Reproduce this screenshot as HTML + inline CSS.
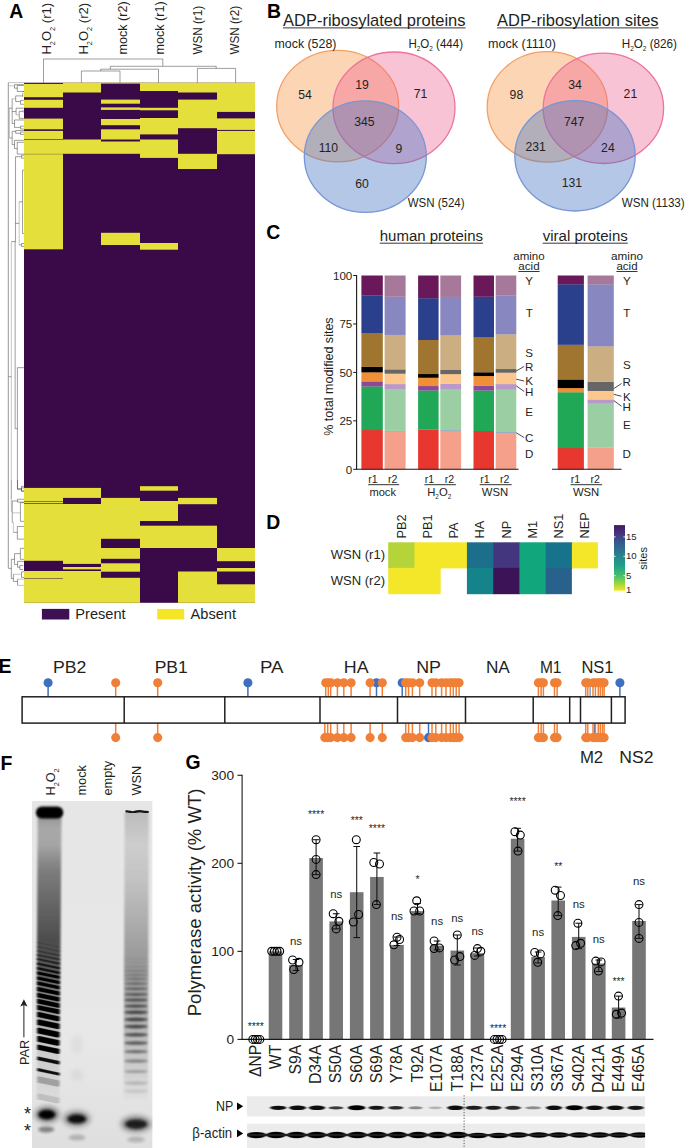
<!DOCTYPE html>
<html><head><meta charset="utf-8"><title>Figure</title>
<style>
html,body{margin:0;padding:0;background:#fff;}
svg{display:block;font-family:"Liberation Sans",sans-serif;}
</style></head><body>
<svg width="685" height="1148" viewBox="0 0 685 1148">
<rect width="685" height="1148" fill="#fff"/>
<rect x="24.00" y="82.70" width="231.00" height="520.10" fill="#390a47" />
<rect x="24.00" y="83.90" width="39.00" height="13.30" fill="#e5df3b" />
<rect x="24.00" y="99.80" width="39.00" height="8.00" fill="#e5df3b" />
<rect x="24.00" y="118.60" width="39.00" height="10.70" fill="#e5df3b" />
<rect x="24.00" y="130.90" width="39.00" height="8.50" fill="#e5df3b" />
<rect x="24.00" y="140.00" width="39.00" height="13.90" fill="#e5df3b" />
<rect x="24.00" y="154.20" width="39.00" height="95.10" fill="#e5df3b" />
<rect x="24.00" y="487.90" width="39.00" height="13.10" fill="#e5df3b" />
<rect x="24.00" y="501.50" width="39.00" height="1.90" fill="#e5df3b" />
<rect x="24.00" y="504.00" width="39.00" height="56.80" fill="#e5df3b" />
<rect x="24.00" y="571.00" width="39.00" height="7.00" fill="#e5df3b" />
<rect x="24.00" y="578.50" width="39.00" height="24.30" fill="#e5df3b" />
<rect x="63.00" y="82.70" width="38.00" height="9.80" fill="#e5df3b" />
<rect x="63.00" y="139.50" width="38.00" height="14.30" fill="#e5df3b" />
<rect x="63.00" y="487.90" width="38.00" height="10.00" fill="#e5df3b" />
<rect x="63.00" y="504.00" width="38.00" height="59.90" fill="#e5df3b" />
<rect x="63.00" y="567.00" width="38.00" height="2.40" fill="#e5df3b" />
<rect x="63.00" y="571.00" width="38.00" height="31.80" fill="#e5df3b" />
<rect x="101.00" y="82.70" width="39.00" height="0.90" fill="#e5df3b" />
<rect x="101.00" y="99.60" width="39.00" height="4.10" fill="#e5df3b" />
<rect x="101.00" y="107.40" width="39.00" height="2.50" fill="#e5df3b" />
<rect x="101.00" y="119.00" width="39.00" height="6.20" fill="#e5df3b" />
<rect x="101.00" y="129.30" width="39.00" height="10.20" fill="#e5df3b" />
<rect x="101.00" y="141.50" width="39.00" height="12.30" fill="#e5df3b" />
<rect x="101.00" y="232.80" width="39.00" height="12.20" fill="#e5df3b" />
<rect x="101.00" y="497.90" width="39.00" height="40.90" fill="#e5df3b" />
<rect x="101.00" y="548.00" width="39.00" height="10.80" fill="#e5df3b" />
<rect x="101.00" y="563.30" width="39.00" height="8.40" fill="#e5df3b" />
<rect x="101.00" y="577.80" width="39.00" height="25.00" fill="#e5df3b" />
<rect x="140.00" y="82.70" width="38.00" height="8.30" fill="#e5df3b" />
<rect x="140.00" y="107.80" width="38.00" height="2.50" fill="#e5df3b" />
<rect x="140.00" y="118.00" width="38.00" height="16.40" fill="#e5df3b" />
<rect x="140.00" y="139.50" width="38.00" height="18.40" fill="#e5df3b" />
<rect x="140.00" y="243.00" width="38.00" height="6.70" fill="#e5df3b" />
<rect x="140.00" y="486.20" width="38.00" height="4.50" fill="#e5df3b" />
<rect x="140.00" y="501.00" width="38.00" height="20.00" fill="#e5df3b" />
<rect x="140.00" y="525.70" width="38.00" height="22.30" fill="#e5df3b" />
<rect x="178.00" y="82.70" width="39.00" height="9.80" fill="#e5df3b" />
<rect x="178.00" y="99.60" width="39.00" height="28.60" fill="#e5df3b" />
<rect x="178.00" y="153.80" width="39.00" height="15.20" fill="#e5df3b" />
<rect x="178.00" y="497.90" width="39.00" height="6.30" fill="#e5df3b" />
<rect x="178.00" y="525.70" width="39.00" height="22.30" fill="#e5df3b" />
<rect x="178.00" y="571.50" width="39.00" height="31.30" fill="#e5df3b" />
<rect x="217.00" y="82.70" width="38.00" height="29.20" fill="#e5df3b" />
<rect x="217.00" y="118.40" width="38.00" height="11.50" fill="#e5df3b" />
<rect x="217.00" y="130.90" width="38.00" height="23.30" fill="#e5df3b" />
<rect x="217.00" y="548.00" width="38.00" height="13.20" fill="#e5df3b" />
<rect x="217.00" y="568.00" width="38.00" height="3.50" fill="#e5df3b" />
<rect x="217.00" y="584.30" width="38.00" height="18.50" fill="#e5df3b" />
<line x1="43.50" y1="59.00" x2="43.50" y2="82.70" stroke="#3c3c3c" stroke-width="0.5" />
<line x1="43.50" y1="59.00" x2="162.80" y2="59.00" stroke="#3c3c3c" stroke-width="0.5" />
<line x1="162.80" y1="59.00" x2="162.80" y2="66.30" stroke="#3c3c3c" stroke-width="0.5" />
<line x1="110.30" y1="66.30" x2="216.20" y2="66.30" stroke="#3c3c3c" stroke-width="0.5" />
<line x1="110.30" y1="66.30" x2="110.30" y2="69.20" stroke="#3c3c3c" stroke-width="0.5" />
<line x1="216.20" y1="66.30" x2="216.20" y2="68.40" stroke="#3c3c3c" stroke-width="0.5" />
<line x1="100.70" y1="69.20" x2="158.50" y2="69.20" stroke="#3c3c3c" stroke-width="0.5" />
<line x1="100.70" y1="69.20" x2="100.70" y2="71.00" stroke="#3c3c3c" stroke-width="0.5" />
<line x1="158.50" y1="69.20" x2="158.50" y2="82.70" stroke="#3c3c3c" stroke-width="0.5" />
<line x1="81.40" y1="71.00" x2="120.00" y2="71.00" stroke="#3c3c3c" stroke-width="0.5" />
<line x1="81.40" y1="71.00" x2="81.40" y2="82.70" stroke="#3c3c3c" stroke-width="0.5" />
<line x1="120.00" y1="71.00" x2="120.00" y2="82.70" stroke="#3c3c3c" stroke-width="0.5" />
<line x1="197.40" y1="68.40" x2="235.60" y2="68.40" stroke="#3c3c3c" stroke-width="0.5" />
<line x1="197.40" y1="68.40" x2="197.40" y2="82.70" stroke="#3c3c3c" stroke-width="0.5" />
<line x1="235.60" y1="68.40" x2="235.60" y2="82.70" stroke="#3c3c3c" stroke-width="0.5" />
<text transform="translate(50.80,54.60) rotate(-90)" font-size="13.3" text-anchor="start" fill="#231f20" textLength="51.80" lengthAdjust="spacingAndGlyphs" >H<tspan dy="4.0" font-size="7.4">2</tspan><tspan dy="-4.0">O</tspan><tspan dy="4.0" font-size="7.4">2</tspan><tspan dy="-4.0"> (r1)</tspan></text>
<text transform="translate(87.60,54.60) rotate(-90)" font-size="13.3" text-anchor="start" fill="#231f20" textLength="51.80" lengthAdjust="spacingAndGlyphs" >H<tspan dy="4.0" font-size="7.4">2</tspan><tspan dy="-4.0">O</tspan><tspan dy="4.0" font-size="7.4">2</tspan><tspan dy="-4.0"> (r2)</tspan></text>
<text transform="translate(126.90,54.60) rotate(-90)" font-size="13.3" text-anchor="start" fill="#231f20" textLength="53.20" lengthAdjust="spacingAndGlyphs" >mock (r2)</text>
<text transform="translate(164.40,54.60) rotate(-90)" font-size="13.3" text-anchor="start" fill="#231f20" textLength="53.20" lengthAdjust="spacingAndGlyphs" >mock (r1)</text>
<text transform="translate(202.20,54.60) rotate(-90)" font-size="13.3" text-anchor="start" fill="#231f20" textLength="48.70" lengthAdjust="spacingAndGlyphs" >WSN (r1)</text>
<text transform="translate(239.30,54.60) rotate(-90)" font-size="13.3" text-anchor="start" fill="#231f20" textLength="48.70" lengthAdjust="spacingAndGlyphs" >WSN (r2)</text>
<text x="9.30" y="17.80" font-size="19.4" text-anchor="start" font-weight="bold" fill="#000" >A</text>
<rect x="41.90" y="608.90" width="27.40" height="10.60" fill="#3d1054" />
<text x="75.30" y="619.30" font-size="14.6" text-anchor="start" font-weight="normal" fill="#231f20" >Present</text>
<rect x="157.20" y="608.90" width="27.00" height="10.60" fill="#f4e526" />
<text x="190.60" y="619.30" font-size="14.6" text-anchor="start" font-weight="normal" fill="#231f20" >Absent</text>
<line x1="8.30" y1="82.60" x2="8.30" y2="568.40" stroke="#8a8a8a" stroke-width="0.9" />
<line x1="8.30" y1="82.60" x2="24.10" y2="82.60" stroke="#8a8a8a" stroke-width="0.5" />
<line x1="9.02" y1="85.84" x2="14.51" y2="85.84" stroke="#8a8a8a" stroke-width="0.5" />
<line x1="14.51" y1="84.67" x2="14.51" y2="88.20" stroke="#3c3c3c" stroke-width="0.5" />
<line x1="14.51" y1="84.67" x2="23.92" y2="84.67" stroke="#3c3c3c" stroke-width="0.5" />
<line x1="14.51" y1="88.20" x2="17.25" y2="88.20" stroke="#3c3c3c" stroke-width="0.5" />
<line x1="17.25" y1="85.45" x2="17.25" y2="91.49" stroke="#3c3c3c" stroke-width="0.5" />
<line x1="17.25" y1="91.49" x2="23.92" y2="91.49" stroke="#3c3c3c" stroke-width="0.5" />
<line x1="17.25" y1="85.45" x2="23.92" y2="85.45" stroke="#3c3c3c" stroke-width="0.5" />
<line x1="23.53" y1="90.94" x2="23.53" y2="92.12" stroke="#3c3c3c" stroke-width="0.5" />
<line x1="12.16" y1="98.78" x2="12.16" y2="123.49" stroke="#3c3c3c" stroke-width="0.5" />
<line x1="12.16" y1="98.78" x2="15.69" y2="98.78" stroke="#8a8a8a" stroke-width="0.5" />
<line x1="15.69" y1="95.88" x2="15.69" y2="101.53" stroke="#3c3c3c" stroke-width="0.5" />
<line x1="15.69" y1="95.88" x2="22.75" y2="95.88" stroke="#3c3c3c" stroke-width="0.5" />
<line x1="22.75" y1="92.90" x2="22.75" y2="96.82" stroke="#3c3c3c" stroke-width="0.5" />
<line x1="15.69" y1="101.53" x2="20.55" y2="101.53" stroke="#3c3c3c" stroke-width="0.5" />
<line x1="20.55" y1="100.35" x2="20.55" y2="104.27" stroke="#3c3c3c" stroke-width="0.5" />
<line x1="20.55" y1="100.35" x2="23.92" y2="100.35" stroke="#3c3c3c" stroke-width="0.5" />
<line x1="20.55" y1="104.27" x2="23.92" y2="104.27" stroke="#3c3c3c" stroke-width="0.5" />
<line x1="9.02" y1="108.20" x2="12.16" y2="108.20" stroke="#3c3c3c" stroke-width="0.5" />
<line x1="12.16" y1="111.57" x2="16.08" y2="111.57" stroke="#3c3c3c" stroke-width="0.5" />
<line x1="16.08" y1="108.20" x2="16.08" y2="114.86" stroke="#3c3c3c" stroke-width="0.5" />
<line x1="16.08" y1="108.20" x2="23.92" y2="108.20" stroke="#3c3c3c" stroke-width="0.5" />
<line x1="16.08" y1="114.86" x2="19.22" y2="114.86" stroke="#8a8a8a" stroke-width="0.5" />
<line x1="19.22" y1="111.33" x2="19.22" y2="118.39" stroke="#3c3c3c" stroke-width="0.5" />
<line x1="19.22" y1="111.33" x2="23.14" y2="111.33" stroke="#3c3c3c" stroke-width="0.5" />
<line x1="23.14" y1="110.16" x2="23.14" y2="112.51" stroke="#3c3c3c" stroke-width="0.5" />
<line x1="19.22" y1="118.39" x2="23.92" y2="118.39" stroke="#3c3c3c" stroke-width="0.5" />
<line x1="12.16" y1="123.49" x2="14.51" y2="123.49" stroke="#3c3c3c" stroke-width="0.5" />
<line x1="14.51" y1="119.96" x2="14.51" y2="127.41" stroke="#3c3c3c" stroke-width="0.5" />
<line x1="14.51" y1="119.96" x2="23.92" y2="119.96" stroke="#3c3c3c" stroke-width="0.5" />
<line x1="14.51" y1="127.41" x2="20.55" y2="127.41" stroke="#3c3c3c" stroke-width="0.5" />
<line x1="20.55" y1="126.24" x2="20.55" y2="128.98" stroke="#3c3c3c" stroke-width="0.5" />
<line x1="20.55" y1="126.24" x2="23.92" y2="126.24" stroke="#3c3c3c" stroke-width="0.5" />
<line x1="20.55" y1="128.98" x2="23.92" y2="128.98" stroke="#3c3c3c" stroke-width="0.5" />
<line x1="9.41" y1="108.20" x2="9.41" y2="138.00" stroke="#8a8a8a" stroke-width="0.5" />
<line x1="9.41" y1="138.00" x2="12.16" y2="138.00" stroke="#3c3c3c" stroke-width="0.5" />
<line x1="12.16" y1="131.33" x2="12.16" y2="144.67" stroke="#3c3c3c" stroke-width="0.5" />
<line x1="12.16" y1="131.33" x2="15.69" y2="131.33" stroke="#3c3c3c" stroke-width="0.5" />
<line x1="15.69" y1="130.55" x2="15.69" y2="133.29" stroke="#3c3c3c" stroke-width="0.5" />
<line x1="15.69" y1="130.55" x2="23.92" y2="130.55" stroke="#3c3c3c" stroke-width="0.5" />
<line x1="15.69" y1="133.29" x2="20.55" y2="133.29" stroke="#3c3c3c" stroke-width="0.5" />
<line x1="20.55" y1="132.12" x2="20.55" y2="134.47" stroke="#3c3c3c" stroke-width="0.5" />
<line x1="20.55" y1="132.12" x2="23.92" y2="132.12" stroke="#3c3c3c" stroke-width="0.5" />
<line x1="20.55" y1="134.47" x2="23.92" y2="134.47" stroke="#3c3c3c" stroke-width="0.5" />
<line x1="12.16" y1="144.67" x2="14.51" y2="144.67" stroke="#3c3c3c" stroke-width="0.5" />
<line x1="14.51" y1="140.35" x2="14.51" y2="148.59" stroke="#3c3c3c" stroke-width="0.5" />
<line x1="14.51" y1="140.35" x2="23.92" y2="140.35" stroke="#3c3c3c" stroke-width="0.5" />
<line x1="14.51" y1="148.59" x2="17.25" y2="148.59" stroke="#3c3c3c" stroke-width="0.5" />
<line x1="17.25" y1="142.31" x2="17.25" y2="154.08" stroke="#3c3c3c" stroke-width="0.5" />
<line x1="17.25" y1="142.31" x2="23.92" y2="142.31" stroke="#3c3c3c" stroke-width="0.5" />
<line x1="17.25" y1="154.08" x2="23.92" y2="154.08" stroke="#3c3c3c" stroke-width="0.5" />
<line x1="15.54" y1="156.71" x2="15.54" y2="241.61" stroke="#3c3c3c" stroke-width="0.5" />
<line x1="15.54" y1="156.71" x2="21.58" y2="156.71" stroke="#3c3c3c" stroke-width="0.5" />
<line x1="21.58" y1="155.28" x2="21.58" y2="158.15" stroke="#3c3c3c" stroke-width="0.5" />
<line x1="21.58" y1="155.28" x2="23.98" y2="155.28" stroke="#3c3c3c" stroke-width="0.5" />
<line x1="21.58" y1="158.15" x2="23.98" y2="158.15" stroke="#3c3c3c" stroke-width="0.5" />
<line x1="15.54" y1="223.38" x2="19.18" y2="223.38" stroke="#3c3c3c" stroke-width="0.5" />
<line x1="19.18" y1="201.80" x2="19.18" y2="244.96" stroke="#8a8a8a" stroke-width="0.5" />
<line x1="19.18" y1="201.80" x2="22.54" y2="201.80" stroke="#3c3c3c" stroke-width="0.5" />
<line x1="22.54" y1="170.14" x2="22.54" y2="233.45" stroke="#3c3c3c" stroke-width="0.5" />
<line x1="22.54" y1="170.14" x2="23.98" y2="170.14" stroke="#3c3c3c" stroke-width="0.5" />
<line x1="22.54" y1="233.45" x2="23.98" y2="233.45" stroke="#3c3c3c" stroke-width="0.5" />
<line x1="19.18" y1="244.96" x2="21.58" y2="244.96" stroke="#3c3c3c" stroke-width="0.5" />
<line x1="21.58" y1="243.53" x2="21.58" y2="246.40" stroke="#3c3c3c" stroke-width="0.5" />
<line x1="21.58" y1="243.53" x2="23.98" y2="243.53" stroke="#3c3c3c" stroke-width="0.5" />
<line x1="21.58" y1="246.40" x2="23.98" y2="246.40" stroke="#3c3c3c" stroke-width="0.5" />
<line x1="11.32" y1="241.61" x2="15.54" y2="241.61" stroke="#3c3c3c" stroke-width="0.5" />
<line x1="11.30" y1="241.58" x2="11.30" y2="499.44" stroke="#8a8a8a" stroke-width="0.5" />
<line x1="15.14" y1="241.58" x2="15.14" y2="428.70" stroke="#3c3c3c" stroke-width="0.5" />
<line x1="15.14" y1="428.70" x2="17.40" y2="428.70" stroke="#3c3c3c" stroke-width="0.5" />
<line x1="17.40" y1="367.68" x2="17.40" y2="488.59" stroke="#3c3c3c" stroke-width="0.5" />
<line x1="17.40" y1="367.68" x2="23.95" y2="367.68" stroke="#3c3c3c" stroke-width="0.5" />
<line x1="17.40" y1="488.59" x2="21.47" y2="488.59" stroke="#3c3c3c" stroke-width="0.5" />
<line x1="21.47" y1="486.33" x2="21.47" y2="490.85" stroke="#3c3c3c" stroke-width="0.5" />
<line x1="21.47" y1="486.33" x2="23.95" y2="486.33" stroke="#3c3c3c" stroke-width="0.5" />
<line x1="21.47" y1="490.85" x2="23.95" y2="490.85" stroke="#3c3c3c" stroke-width="0.5" />
<line x1="8.59" y1="376.72" x2="11.30" y2="376.72" stroke="#3c3c3c" stroke-width="0.5" />
<line x1="8.50" y1="568.39" x2="11.33" y2="568.39" stroke="#3c3c3c" stroke-width="0.5" />
<line x1="11.33" y1="480.00" x2="11.33" y2="511.73" stroke="#8a8a8a" stroke-width="0.5" />
<line x1="17.56" y1="480.00" x2="17.56" y2="489.63" stroke="#3c3c3c" stroke-width="0.5" />
<line x1="17.56" y1="489.63" x2="21.53" y2="489.63" stroke="#3c3c3c" stroke-width="0.5" />
<line x1="21.53" y1="487.93" x2="21.53" y2="491.33" stroke="#3c3c3c" stroke-width="0.5" />
<line x1="21.53" y1="487.93" x2="24.02" y2="487.93" stroke="#3c3c3c" stroke-width="0.5" />
<line x1="21.53" y1="491.33" x2="24.02" y2="491.33" stroke="#3c3c3c" stroke-width="0.5" />
<line x1="12.24" y1="500.96" x2="17.56" y2="500.96" stroke="#3c3c3c" stroke-width="0.5" />
<line x1="12.24" y1="500.96" x2="12.24" y2="522.49" stroke="#3c3c3c" stroke-width="0.5" />
<line x1="12.24" y1="512.86" x2="20.40" y2="512.86" stroke="#8a8a8a" stroke-width="0.5" />
<line x1="20.40" y1="502.66" x2="20.40" y2="521.36" stroke="#3c3c3c" stroke-width="0.5" />
<line x1="20.40" y1="502.66" x2="24.02" y2="502.66" stroke="#3c3c3c" stroke-width="0.5" />
<line x1="20.40" y1="521.36" x2="24.02" y2="521.36" stroke="#3c3c3c" stroke-width="0.5" />
<line x1="17.56" y1="499.26" x2="17.56" y2="502.10" stroke="#3c3c3c" stroke-width="0.5" />
<line x1="17.56" y1="499.26" x2="24.02" y2="499.26" stroke="#3c3c3c" stroke-width="0.5" />
<line x1="17.56" y1="502.10" x2="24.02" y2="502.10" stroke="#3c3c3c" stroke-width="0.5" />
<line x1="13.37" y1="522.49" x2="13.37" y2="532.35" stroke="#8a8a8a" stroke-width="0.5" />
<line x1="12.24" y1="522.49" x2="13.37" y2="522.49" stroke="#8a8a8a" stroke-width="0.5" />
<line x1="13.37" y1="532.35" x2="17.34" y2="532.35" stroke="#3c3c3c" stroke-width="0.5" />
<line x1="17.34" y1="526.46" x2="17.34" y2="539.15" stroke="#3c3c3c" stroke-width="0.5" />
<line x1="17.34" y1="526.46" x2="24.02" y2="526.46" stroke="#3c3c3c" stroke-width="0.5" />
<line x1="17.34" y1="539.15" x2="24.02" y2="539.15" stroke="#3c3c3c" stroke-width="0.5" />
<line x1="20.40" y1="548.33" x2="20.40" y2="559.32" stroke="#3c3c3c" stroke-width="0.5" />
<line x1="20.40" y1="548.33" x2="24.02" y2="548.33" stroke="#3c3c3c" stroke-width="0.5" />
<line x1="20.40" y1="559.32" x2="24.02" y2="559.32" stroke="#3c3c3c" stroke-width="0.5" />
<line x1="14.50" y1="553.65" x2="20.40" y2="553.65" stroke="#3c3c3c" stroke-width="0.5" />
<line x1="14.50" y1="553.65" x2="14.50" y2="564.42" stroke="#3c3c3c" stroke-width="0.5" />
<line x1="14.50" y1="564.42" x2="17.56" y2="564.42" stroke="#3c3c3c" stroke-width="0.5" />
<line x1="17.56" y1="561.36" x2="17.56" y2="567.25" stroke="#3c3c3c" stroke-width="0.5" />
<line x1="17.56" y1="561.36" x2="24.02" y2="561.36" stroke="#3c3c3c" stroke-width="0.5" />
<line x1="17.56" y1="567.25" x2="19.83" y2="567.25" stroke="#3c3c3c" stroke-width="0.5" />
<line x1="19.83" y1="565.55" x2="19.83" y2="569.52" stroke="#3c3c3c" stroke-width="0.5" />
<line x1="19.83" y1="565.55" x2="23.23" y2="565.55" stroke="#3c3c3c" stroke-width="0.5" />
<line x1="19.83" y1="569.52" x2="23.23" y2="569.52" stroke="#3c3c3c" stroke-width="0.5" />
<line x1="11.33" y1="559.32" x2="14.50" y2="559.32" stroke="#3c3c3c" stroke-width="0.5" />
<line x1="11.33" y1="559.32" x2="11.33" y2="578.58" stroke="#3c3c3c" stroke-width="0.5" />
<line x1="13.37" y1="574.28" x2="21.53" y2="574.28" stroke="#8a8a8a" stroke-width="0.5" />
<line x1="21.53" y1="571.78" x2="21.53" y2="577.45" stroke="#3c3c3c" stroke-width="0.5" />
<line x1="21.53" y1="571.78" x2="24.02" y2="571.78" stroke="#3c3c3c" stroke-width="0.5" />
<line x1="21.53" y1="577.45" x2="24.02" y2="577.45" stroke="#3c3c3c" stroke-width="0.5" />
<line x1="11.33" y1="578.58" x2="13.37" y2="578.58" stroke="#3c3c3c" stroke-width="0.5" />
<line x1="13.37" y1="574.28" x2="13.37" y2="581.42" stroke="#3c3c3c" stroke-width="0.5" />
<line x1="13.37" y1="581.42" x2="17.56" y2="581.42" stroke="#3c3c3c" stroke-width="0.5" />
<line x1="17.56" y1="579.15" x2="17.56" y2="585.38" stroke="#3c3c3c" stroke-width="0.5" />
<line x1="17.56" y1="579.15" x2="24.02" y2="579.15" stroke="#8a8a8a" stroke-width="0.5" />
<line x1="17.56" y1="585.38" x2="24.02" y2="585.38" stroke="#8a8a8a" stroke-width="0.5" />
<text x="266.90" y="17.80" font-size="19.4" text-anchor="start" font-weight="bold" fill="#000" >B</text>
<ellipse cx="337.7" cy="106.1" rx="61" ry="55.8" fill="#f79646" fill-opacity="0.40" stroke="#f2a065" stroke-width="1.3"/>
<ellipse cx="394" cy="107.8" rx="61" ry="55.8" fill="#ee5a8c" fill-opacity="0.36" stroke="#ee739e" stroke-width="1.3"/>
<ellipse cx="365.3" cy="156.6" rx="61" ry="55.8" fill="#4472c4" fill-opacity="0.40" stroke="#7796d4" stroke-width="1.3"/>
<ellipse cx="547.4" cy="106.9" rx="60.2" ry="55.2" fill="#f79646" fill-opacity="0.40" stroke="#f2a065" stroke-width="1.3"/>
<ellipse cx="603.4" cy="108.3" rx="60.2" ry="55.2" fill="#ee5a8c" fill-opacity="0.36" stroke="#ee739e" stroke-width="1.3"/>
<ellipse cx="575" cy="155.8" rx="60.2" ry="55.2" fill="#4472c4" fill-opacity="0.40" stroke="#7796d4" stroke-width="1.3"/>
<text x="283.00" y="26.00" font-size="16.4" text-anchor="start" font-weight="normal" fill="#231f20" textLength="182.50" lengthAdjust="spacingAndGlyphs" >ADP-ribosylated proteins</text>
<line x1="283.00" y1="27.90" x2="465.50" y2="27.90" stroke="#231f20" stroke-width="0.9" />
<text x="497.10" y="26.00" font-size="16.4" text-anchor="start" font-weight="normal" fill="#231f20" textLength="161.50" lengthAdjust="spacingAndGlyphs" >ADP-ribosylation sites</text>
<line x1="497.10" y1="27.90" x2="658.60" y2="27.90" stroke="#231f20" stroke-width="0.9" />
<text x="274.50" y="47.60" font-size="12.2" text-anchor="start" font-weight="normal" fill="#231f20" textLength="61.90" lengthAdjust="spacingAndGlyphs" >mock (528)</text>
<text x="408.40" y="47.60" font-size="12.2" text-anchor="start" font-weight="normal" fill="#231f20" textLength="54.60" lengthAdjust="spacingAndGlyphs" >H<tspan dy="3.7" font-size="6.8">2</tspan><tspan dy="-3.7">O</tspan><tspan dy="3.7" font-size="6.8">2</tspan><tspan dy="-3.7"> (444)</tspan></text>
<text x="407.70" y="207.20" font-size="12.2" text-anchor="start" font-weight="normal" fill="#231f20" textLength="56.90" lengthAdjust="spacingAndGlyphs" >WSN (524)</text>
<text x="305.00" y="99.00" font-size="12.2" text-anchor="middle" font-weight="normal" fill="#231f20" >54</text>
<text x="362.10" y="89.40" font-size="12.2" text-anchor="middle" font-weight="normal" fill="#231f20" >19</text>
<text x="420.60" y="98.10" font-size="12.2" text-anchor="middle" font-weight="normal" fill="#231f20" >71</text>
<text x="364.40" y="125.70" font-size="12.2" text-anchor="middle" font-weight="normal" fill="#231f20" >345</text>
<text x="328.40" y="151.70" font-size="12.2" text-anchor="middle" font-weight="normal" fill="#231f20" >110</text>
<text x="399.00" y="152.70" font-size="12.2" text-anchor="middle" font-weight="normal" fill="#231f20" >9</text>
<text x="362.10" y="188.30" font-size="12.2" text-anchor="middle" font-weight="normal" fill="#231f20" >60</text>
<text x="516.40" y="99.00" font-size="12.2" text-anchor="middle" font-weight="normal" fill="#231f20" >98</text>
<text x="575.10" y="89.40" font-size="12.2" text-anchor="middle" font-weight="normal" fill="#231f20" >34</text>
<text x="630.40" y="98.40" font-size="12.2" text-anchor="middle" font-weight="normal" fill="#231f20" >21</text>
<text x="574.20" y="125.70" font-size="12.2" text-anchor="middle" font-weight="normal" fill="#231f20" >747</text>
<text x="535.60" y="151.40" font-size="12.2" text-anchor="middle" font-weight="normal" fill="#231f20" >231</text>
<text x="607.90" y="152.00" font-size="12.2" text-anchor="middle" font-weight="normal" fill="#231f20" >24</text>
<text x="571.90" y="187.30" font-size="12.2" text-anchor="middle" font-weight="normal" fill="#231f20" >131</text>
<text x="488.10" y="47.60" font-size="12.2" text-anchor="start" font-weight="normal" fill="#231f20" textLength="67.80" lengthAdjust="spacingAndGlyphs" >mock (1110)</text>
<text x="621.70" y="47.60" font-size="12.2" text-anchor="start" font-weight="normal" fill="#231f20" textLength="55.30" lengthAdjust="spacingAndGlyphs" >H<tspan dy="3.7" font-size="6.8">2</tspan><tspan dy="-3.7">O</tspan><tspan dy="3.7" font-size="6.8">2</tspan><tspan dy="-3.7"> (826)</tspan></text>
<text x="621.70" y="207.20" font-size="12.2" text-anchor="start" font-weight="normal" fill="#231f20" textLength="63.00" lengthAdjust="spacingAndGlyphs" >WSN (1133)</text>
<text x="266.30" y="239.00" font-size="19.4" text-anchor="start" font-weight="bold" fill="#000" >C</text>
<rect x="361.40" y="429.96" width="21.40" height="39.49" fill="#e8372f" />
<rect x="361.40" y="386.35" width="21.40" height="43.75" fill="#20a857" />
<rect x="361.40" y="381.31" width="21.40" height="5.19" fill="#8b4a97" />
<rect x="361.40" y="372.21" width="21.40" height="9.26" fill="#f09036" />
<rect x="361.40" y="366.78" width="21.40" height="5.58" fill="#000000" />
<rect x="361.40" y="332.86" width="21.40" height="34.07" fill="#a07530" />
<rect x="361.40" y="295.46" width="21.40" height="37.55" fill="#2b408d" />
<rect x="361.40" y="275.50" width="21.40" height="20.11" fill="#69195a" />
<rect x="384.60" y="431.51" width="21.00" height="37.94" fill="#f4a08a" />
<rect x="384.60" y="430.73" width="21.00" height="0.93" fill="#8f9bd0" />
<rect x="384.60" y="389.45" width="21.00" height="41.43" fill="#9bcfa3" />
<rect x="384.60" y="384.03" width="21.00" height="5.58" fill="#b999c9" />
<rect x="384.60" y="373.56" width="21.00" height="10.62" fill="#fbc78f" />
<rect x="384.60" y="369.30" width="21.00" height="4.41" fill="#666666" />
<rect x="384.60" y="334.80" width="21.00" height="34.65" fill="#ccae83" />
<rect x="384.60" y="296.62" width="21.00" height="38.33" fill="#8987bf" />
<rect x="384.60" y="275.50" width="21.00" height="21.27" fill="#a6799b" />
<rect x="418.10" y="429.38" width="20.50" height="40.07" fill="#e8372f" />
<rect x="418.10" y="390.42" width="20.50" height="39.10" fill="#20a857" />
<rect x="418.10" y="385.97" width="20.50" height="4.61" fill="#8b4a97" />
<rect x="418.10" y="377.63" width="20.50" height="8.48" fill="#f09036" />
<rect x="418.10" y="373.95" width="20.50" height="3.83" fill="#000000" />
<rect x="418.10" y="339.84" width="20.50" height="34.26" fill="#a07530" />
<rect x="418.10" y="298.17" width="20.50" height="41.82" fill="#2b408d" />
<rect x="418.10" y="275.50" width="20.50" height="22.82" fill="#69195a" />
<rect x="440.30" y="430.93" width="20.80" height="38.52" fill="#f4a08a" />
<rect x="440.30" y="430.15" width="20.80" height="0.93" fill="#8f9bd0" />
<rect x="440.30" y="389.07" width="20.80" height="41.24" fill="#9bcfa3" />
<rect x="440.30" y="383.64" width="20.80" height="5.58" fill="#b999c9" />
<rect x="440.30" y="373.95" width="20.80" height="9.84" fill="#fbc78f" />
<rect x="440.30" y="369.49" width="20.80" height="4.61" fill="#666666" />
<rect x="440.30" y="335.19" width="20.80" height="34.45" fill="#ccae83" />
<rect x="440.30" y="296.82" width="20.80" height="38.52" fill="#8987bf" />
<rect x="440.30" y="275.50" width="20.80" height="21.47" fill="#a6799b" />
<rect x="473.50" y="430.93" width="20.50" height="38.52" fill="#e8372f" />
<rect x="473.50" y="390.42" width="20.50" height="40.65" fill="#20a857" />
<rect x="473.50" y="385.77" width="20.50" height="4.80" fill="#8b4a97" />
<rect x="473.50" y="375.89" width="20.50" height="10.03" fill="#f09036" />
<rect x="473.50" y="372.21" width="20.50" height="3.83" fill="#000000" />
<rect x="473.50" y="337.13" width="20.50" height="35.23" fill="#a07530" />
<rect x="473.50" y="296.62" width="20.50" height="40.65" fill="#2b408d" />
<rect x="473.50" y="275.50" width="20.50" height="21.27" fill="#69195a" />
<rect x="495.70" y="432.87" width="20.60" height="36.58" fill="#f4a08a" />
<rect x="495.70" y="432.09" width="20.60" height="0.93" fill="#8f9bd0" />
<rect x="495.70" y="389.65" width="20.60" height="42.59" fill="#9bcfa3" />
<rect x="495.70" y="384.03" width="20.60" height="5.77" fill="#b999c9" />
<rect x="495.70" y="372.59" width="20.60" height="11.58" fill="#fbc78f" />
<rect x="495.70" y="368.91" width="20.60" height="3.83" fill="#666666" />
<rect x="495.70" y="334.22" width="20.60" height="34.84" fill="#ccae83" />
<rect x="495.70" y="295.46" width="20.60" height="38.91" fill="#8987bf" />
<rect x="495.70" y="275.50" width="20.60" height="20.11" fill="#a6799b" />
<rect x="557.70" y="447.98" width="26.20" height="21.47" fill="#e8372f" />
<rect x="557.70" y="392.17" width="26.20" height="55.96" fill="#20a857" />
<rect x="557.70" y="387.90" width="26.20" height="4.41" fill="#f09036" />
<rect x="557.70" y="379.38" width="26.20" height="8.68" fill="#000000" />
<rect x="557.70" y="344.69" width="26.20" height="34.84" fill="#a07530" />
<rect x="557.70" y="284.22" width="26.20" height="60.62" fill="#2b408d" />
<rect x="557.70" y="275.50" width="26.20" height="8.87" fill="#69195a" />
<rect x="587.60" y="447.59" width="26.20" height="21.86" fill="#f4a08a" />
<rect x="587.60" y="403.02" width="26.20" height="44.72" fill="#9bcfa3" />
<rect x="587.60" y="399.34" width="26.20" height="3.83" fill="#b999c9" />
<rect x="587.60" y="390.81" width="26.20" height="8.68" fill="#fbc78f" />
<rect x="587.60" y="381.70" width="26.20" height="9.26" fill="#666666" />
<rect x="587.60" y="346.24" width="26.20" height="35.62" fill="#ccae83" />
<rect x="587.60" y="284.22" width="26.20" height="62.17" fill="#8987bf" />
<rect x="587.60" y="275.50" width="26.20" height="8.87" fill="#a6799b" />
<line x1="356.60" y1="275.00" x2="356.60" y2="469.80" stroke="#1a1a1a" stroke-width="1.1" />
<line x1="356.10" y1="469.30" x2="518.60" y2="469.30" stroke="#1a1a1a" stroke-width="1.1" />
<line x1="552.00" y1="469.30" x2="621.50" y2="469.30" stroke="#1a1a1a" stroke-width="1.1" />
<line x1="353.20" y1="469.30" x2="356.60" y2="469.30" stroke="#1a1a1a" stroke-width="1.0" />
<text x="352.30" y="473.80" font-size="11.6" text-anchor="end" font-weight="normal" fill="#231f20" >0</text>
<line x1="353.20" y1="420.85" x2="356.60" y2="420.85" stroke="#1a1a1a" stroke-width="1.0" />
<text x="352.30" y="425.35" font-size="11.6" text-anchor="end" font-weight="normal" fill="#231f20" >25</text>
<line x1="353.20" y1="372.40" x2="356.60" y2="372.40" stroke="#1a1a1a" stroke-width="1.0" />
<text x="352.30" y="376.90" font-size="11.6" text-anchor="end" font-weight="normal" fill="#231f20" >50</text>
<line x1="353.20" y1="323.95" x2="356.60" y2="323.95" stroke="#1a1a1a" stroke-width="1.0" />
<text x="352.30" y="328.45" font-size="11.6" text-anchor="end" font-weight="normal" fill="#231f20" >75</text>
<line x1="353.20" y1="275.50" x2="356.60" y2="275.50" stroke="#1a1a1a" stroke-width="1.0" />
<text x="352.30" y="280.00" font-size="11.6" text-anchor="end" font-weight="normal" fill="#231f20" >100</text>
<text transform="translate(332.80,376.60) rotate(-90)" font-size="13.0" text-anchor="middle" fill="#231f20" textLength="118.50" lengthAdjust="spacingAndGlyphs" >% total modified sites</text>
<text x="379.80" y="241.30" font-size="15.4" text-anchor="start" font-weight="normal" fill="#231f20" textLength="103.20" lengthAdjust="spacingAndGlyphs" >human proteins</text>
<line x1="379.80" y1="243.20" x2="483.00" y2="243.20" stroke="#231f20" stroke-width="0.9" />
<text x="542.70" y="241.30" font-size="15.4" text-anchor="start" font-weight="normal" fill="#231f20" textLength="85.10" lengthAdjust="spacingAndGlyphs" >viral proteins</text>
<line x1="542.70" y1="243.20" x2="627.80" y2="243.20" stroke="#231f20" stroke-width="0.9" />
<text x="529.00" y="260.40" font-size="11.0" text-anchor="middle" font-weight="normal" fill="#231f20" textLength="31.40" lengthAdjust="spacingAndGlyphs" >amino</text>
<text x="529.00" y="269.60" font-size="11.0" text-anchor="middle" font-weight="normal" fill="#231f20" textLength="21.30" lengthAdjust="spacingAndGlyphs" >acid</text>
<line x1="518.35" y1="271.50" x2="539.65" y2="271.50" stroke="#231f20" stroke-width="0.9" />
<text x="627.00" y="260.40" font-size="11.0" text-anchor="middle" font-weight="normal" fill="#231f20" textLength="31.90" lengthAdjust="spacingAndGlyphs" >amino</text>
<text x="627.00" y="269.60" font-size="11.0" text-anchor="middle" font-weight="normal" fill="#231f20" textLength="21.10" lengthAdjust="spacingAndGlyphs" >acid</text>
<line x1="616.45" y1="271.50" x2="637.55" y2="271.50" stroke="#231f20" stroke-width="0.9" />
<text x="529.20" y="285.20" font-size="11.6" text-anchor="middle" font-weight="normal" fill="#231f20" >Y</text>
<text x="529.20" y="317.40" font-size="11.6" text-anchor="middle" font-weight="normal" fill="#231f20" >T</text>
<text x="529.20" y="357.20" font-size="11.6" text-anchor="middle" font-weight="normal" fill="#231f20" >S</text>
<text x="529.20" y="370.60" font-size="11.6" text-anchor="middle" font-weight="normal" fill="#231f20" >R</text>
<text x="529.20" y="385.20" font-size="11.6" text-anchor="middle" font-weight="normal" fill="#231f20" >K</text>
<text x="529.20" y="395.70" font-size="11.6" text-anchor="middle" font-weight="normal" fill="#231f20" >H</text>
<text x="529.20" y="415.60" font-size="11.6" text-anchor="middle" font-weight="normal" fill="#231f20" >E</text>
<text x="529.20" y="442.10" font-size="11.6" text-anchor="middle" font-weight="normal" fill="#231f20" >C</text>
<text x="529.20" y="457.70" font-size="11.6" text-anchor="middle" font-weight="normal" fill="#231f20" >D</text>
<text x="626.80" y="285.20" font-size="11.6" text-anchor="middle" font-weight="normal" fill="#231f20" >Y</text>
<text x="626.80" y="317.40" font-size="11.6" text-anchor="middle" font-weight="normal" fill="#231f20" >T</text>
<text x="626.80" y="368.60" font-size="11.6" text-anchor="middle" font-weight="normal" fill="#231f20" >S</text>
<text x="626.80" y="386.30" font-size="11.6" text-anchor="middle" font-weight="normal" fill="#231f20" >R</text>
<text x="626.80" y="400.50" font-size="11.6" text-anchor="middle" font-weight="normal" fill="#231f20" >K</text>
<text x="626.80" y="411.10" font-size="11.6" text-anchor="middle" font-weight="normal" fill="#231f20" >H</text>
<text x="626.80" y="429.30" font-size="11.6" text-anchor="middle" font-weight="normal" fill="#231f20" >E</text>
<text x="626.80" y="457.50" font-size="11.6" text-anchor="middle" font-weight="normal" fill="#231f20" >D</text>
<line x1="516.20" y1="371.00" x2="524.20" y2="366.40" stroke="#1a1a1a" stroke-width="0.8" />
<line x1="516.20" y1="379.20" x2="524.20" y2="381.00" stroke="#1a1a1a" stroke-width="0.8" />
<line x1="516.20" y1="385.80" x2="524.20" y2="391.50" stroke="#1a1a1a" stroke-width="0.8" />
<line x1="516.20" y1="432.80" x2="524.20" y2="437.60" stroke="#1a1a1a" stroke-width="0.8" />
<line x1="613.80" y1="388.60" x2="621.50" y2="383.50" stroke="#1a1a1a" stroke-width="0.8" />
<line x1="613.80" y1="394.30" x2="621.50" y2="396.30" stroke="#1a1a1a" stroke-width="0.8" />
<line x1="613.80" y1="400.60" x2="621.50" y2="406.30" stroke="#1a1a1a" stroke-width="0.8" />
<text x="372.90" y="482.70" font-size="10.6" text-anchor="middle" font-weight="normal" fill="#231f20" >r1</text>
<text x="392.70" y="482.70" font-size="10.6" text-anchor="middle" font-weight="normal" fill="#231f20" >r2</text>
<line x1="368.20" y1="484.70" x2="399.20" y2="484.70" stroke="#1a1a1a" stroke-width="0.9" />
<text x="382.70" y="495.50" font-size="11.3" text-anchor="middle" font-weight="normal" fill="#231f20" textLength="26.50" lengthAdjust="spacingAndGlyphs" >mock</text>
<text x="429.50" y="482.70" font-size="10.6" text-anchor="middle" font-weight="normal" fill="#231f20" >r1</text>
<text x="449.40" y="482.70" font-size="10.6" text-anchor="middle" font-weight="normal" fill="#231f20" >r2</text>
<line x1="424.40" y1="484.70" x2="455.90" y2="484.70" stroke="#1a1a1a" stroke-width="0.9" />
<text x="439.20" y="495.50" font-size="11.3" text-anchor="middle" font-weight="normal" fill="#231f20" >H<tspan dy="3.4" font-size="6.3">2</tspan><tspan dy="-3.4">O</tspan><tspan dy="3.4" font-size="6.3">2</tspan></text>
<text x="485.00" y="482.70" font-size="10.6" text-anchor="middle" font-weight="normal" fill="#231f20" >r1</text>
<text x="504.70" y="482.70" font-size="10.6" text-anchor="middle" font-weight="normal" fill="#231f20" >r2</text>
<line x1="479.70" y1="484.70" x2="511.70" y2="484.70" stroke="#1a1a1a" stroke-width="0.9" />
<text x="495.00" y="495.50" font-size="11.3" text-anchor="middle" font-weight="normal" fill="#231f20" textLength="26.40" lengthAdjust="spacingAndGlyphs" >WSN</text>
<text x="575.40" y="482.70" font-size="10.6" text-anchor="middle" font-weight="normal" fill="#231f20" >r1</text>
<text x="595.10" y="482.70" font-size="10.6" text-anchor="middle" font-weight="normal" fill="#231f20" >r2</text>
<line x1="570.60" y1="484.70" x2="602.10" y2="484.70" stroke="#1a1a1a" stroke-width="0.9" />
<text x="586.10" y="495.50" font-size="11.3" text-anchor="middle" font-weight="normal" fill="#231f20" textLength="26.40" lengthAdjust="spacingAndGlyphs" >WSN</text>
<text x="266.20" y="528.60" font-size="19.4" text-anchor="start" font-weight="bold" fill="#000" >D</text>
<rect x="388.20" y="542.30" width="26.84" height="26.10" fill="#b5d43a" />
<rect x="414.44" y="542.30" width="26.84" height="26.10" fill="#f4e628" />
<rect x="440.68" y="542.30" width="26.84" height="26.10" fill="#f4e628" />
<rect x="466.92" y="542.30" width="26.84" height="26.10" fill="#1c6f8b" />
<rect x="493.16" y="542.30" width="26.84" height="26.10" fill="#43357e" />
<rect x="519.40" y="542.30" width="26.84" height="26.10" fill="#12a67c" />
<rect x="545.64" y="542.30" width="26.84" height="26.10" fill="#17728b" />
<rect x="571.88" y="542.30" width="26.04" height="26.10" fill="#f4e628" />
<rect x="388.20" y="567.90" width="26.84" height="26.30" fill="#f4e628" />
<rect x="414.44" y="567.90" width="26.24" height="26.30" fill="#f4e628" />
<rect x="466.92" y="567.90" width="26.84" height="26.30" fill="#14838a" />
<rect x="493.16" y="567.90" width="26.84" height="26.30" fill="#3c1356" />
<rect x="519.40" y="567.90" width="26.84" height="26.30" fill="#12a67c" />
<rect x="545.64" y="567.90" width="26.24" height="26.30" fill="#28628c" />
<text transform="translate(405.72,538.60) rotate(-90)" font-size="12.8" text-anchor="start" fill="#231f20" >PB2</text>
<text transform="translate(431.96,538.60) rotate(-90)" font-size="12.8" text-anchor="start" fill="#231f20" >PB1</text>
<text transform="translate(458.20,538.60) rotate(-90)" font-size="12.8" text-anchor="start" fill="#231f20" >PA</text>
<text transform="translate(484.44,538.60) rotate(-90)" font-size="12.8" text-anchor="start" fill="#231f20" >HA</text>
<text transform="translate(510.68,538.60) rotate(-90)" font-size="12.8" text-anchor="start" fill="#231f20" >NP</text>
<text transform="translate(536.92,538.60) rotate(-90)" font-size="12.8" text-anchor="start" fill="#231f20" >M1</text>
<text transform="translate(563.16,538.60) rotate(-90)" font-size="12.8" text-anchor="start" fill="#231f20" >NS1</text>
<text transform="translate(589.40,538.60) rotate(-90)" font-size="12.8" text-anchor="start" fill="#231f20" >NEP</text>
<text x="385.00" y="559.40" font-size="12.8" text-anchor="end" font-weight="normal" fill="#231f20" textLength="54.30" lengthAdjust="spacingAndGlyphs" >WSN (r1)</text>
<text x="385.00" y="585.00" font-size="12.8" text-anchor="end" font-weight="normal" fill="#231f20" textLength="54.30" lengthAdjust="spacingAndGlyphs" >WSN (r2)</text>
<defs><linearGradient id="vir" x1="0" y1="0" x2="0" y2="1"><stop offset="0" stop-color="#441a5e"/><stop offset="0.12" stop-color="#46327e"/><stop offset="0.28" stop-color="#365c8d"/><stop offset="0.45" stop-color="#277f8e"/><stop offset="0.62" stop-color="#1fa187"/><stop offset="0.78" stop-color="#4ac16d"/><stop offset="0.9" stop-color="#a0da39"/><stop offset="1" stop-color="#f4e628"/></linearGradient></defs>
<rect x="614.00" y="525.10" width="11.00" height="65.60" fill="url(#vir)" />
<line x1="614.00" y1="536.90" x2="615.60" y2="536.90" stroke="#fff" stroke-width="0.9" />
<line x1="623.40" y1="536.90" x2="625.00" y2="536.90" stroke="#fff" stroke-width="0.9" />
<text x="626.00" y="539.80" font-size="9.6" text-anchor="start" font-weight="normal" fill="#231f20" >15</text>
<line x1="614.00" y1="556.30" x2="615.60" y2="556.30" stroke="#fff" stroke-width="0.9" />
<line x1="623.40" y1="556.30" x2="625.00" y2="556.30" stroke="#fff" stroke-width="0.9" />
<text x="626.00" y="559.20" font-size="9.6" text-anchor="start" font-weight="normal" fill="#231f20" >10</text>
<line x1="614.00" y1="575.70" x2="615.60" y2="575.70" stroke="#fff" stroke-width="0.9" />
<line x1="623.40" y1="575.70" x2="625.00" y2="575.70" stroke="#fff" stroke-width="0.9" />
<text x="626.00" y="578.60" font-size="9.6" text-anchor="start" font-weight="normal" fill="#231f20" >5</text>
<text x="626.00" y="593.40" font-size="9.6" text-anchor="start" font-weight="normal" fill="#231f20" >1</text>
<text transform="translate(647.40,558.40) rotate(-90)" font-size="11.0" text-anchor="middle" fill="#231f20" >sites</text>
<text x="-1.40" y="673.30" font-size="19.4" text-anchor="start" font-weight="bold" fill="#000" >E</text>
<line x1="48.10" y1="696.70" x2="48.10" y2="682.70" stroke="#3f6fbf" stroke-width="1.5" />
<circle cx="48.10" cy="682.7" r="4.55" fill="#3f6fbf"/>
<line x1="247.90" y1="696.70" x2="247.90" y2="682.70" stroke="#3f6fbf" stroke-width="1.5" />
<circle cx="247.90" cy="682.7" r="4.55" fill="#3f6fbf"/>
<line x1="376.50" y1="696.70" x2="376.50" y2="682.70" stroke="#3f6fbf" stroke-width="1.5" />
<circle cx="376.50" cy="682.7" r="4.55" fill="#3f6fbf"/>
<line x1="402.20" y1="696.70" x2="402.20" y2="682.70" stroke="#3f6fbf" stroke-width="1.5" />
<circle cx="402.20" cy="682.7" r="4.55" fill="#3f6fbf"/>
<line x1="619.90" y1="696.70" x2="619.90" y2="682.70" stroke="#3f6fbf" stroke-width="1.5" />
<circle cx="619.90" cy="682.7" r="4.55" fill="#3f6fbf"/>
<line x1="428.50" y1="723.00" x2="428.50" y2="737.60" stroke="#3f6fbf" stroke-width="1.5" />
<circle cx="428.50" cy="737.6" r="4.55" fill="#3f6fbf"/>
<line x1="590.10" y1="696.70" x2="590.10" y2="684.00" stroke="#3f6fbf" stroke-width="1.0" />
<line x1="594.50" y1="723.00" x2="594.50" y2="736.00" stroke="#3f6fbf" stroke-width="1.0" />
<line x1="115.70" y1="696.70" x2="115.70" y2="682.70" stroke="#f08037" stroke-width="1.5" />
<circle cx="115.70" cy="682.7" r="4.55" fill="#f08037"/>
<line x1="157.70" y1="696.70" x2="157.70" y2="682.70" stroke="#f08037" stroke-width="1.5" />
<circle cx="157.70" cy="682.7" r="4.55" fill="#f08037"/>
<line x1="325.70" y1="696.70" x2="325.70" y2="682.70" stroke="#f08037" stroke-width="1.5" />
<circle cx="325.70" cy="682.7" r="4.55" fill="#f08037"/>
<line x1="328.30" y1="696.70" x2="328.30" y2="682.70" stroke="#f08037" stroke-width="1.5" />
<circle cx="328.30" cy="682.7" r="4.55" fill="#f08037"/>
<line x1="330.70" y1="696.70" x2="330.70" y2="682.70" stroke="#f08037" stroke-width="1.5" />
<circle cx="330.70" cy="682.7" r="4.55" fill="#f08037"/>
<line x1="337.40" y1="696.70" x2="337.40" y2="682.70" stroke="#f08037" stroke-width="1.5" />
<circle cx="337.40" cy="682.7" r="4.55" fill="#f08037"/>
<line x1="343.80" y1="696.70" x2="343.80" y2="682.70" stroke="#f08037" stroke-width="1.5" />
<circle cx="343.80" cy="682.7" r="4.55" fill="#f08037"/>
<line x1="351.10" y1="696.70" x2="351.10" y2="682.70" stroke="#f08037" stroke-width="1.5" />
<circle cx="351.10" cy="682.7" r="4.55" fill="#f08037"/>
<line x1="370.10" y1="696.70" x2="370.10" y2="682.70" stroke="#f08037" stroke-width="1.5" />
<circle cx="370.10" cy="682.7" r="4.55" fill="#f08037"/>
<line x1="382.30" y1="696.70" x2="382.30" y2="682.70" stroke="#f08037" stroke-width="1.5" />
<circle cx="382.30" cy="682.7" r="4.55" fill="#f08037"/>
<line x1="405.70" y1="696.70" x2="405.70" y2="682.70" stroke="#f08037" stroke-width="1.5" />
<circle cx="405.70" cy="682.7" r="4.55" fill="#f08037"/>
<line x1="408.60" y1="696.70" x2="408.60" y2="682.70" stroke="#f08037" stroke-width="1.5" />
<circle cx="408.60" cy="682.7" r="4.55" fill="#f08037"/>
<line x1="412.40" y1="696.70" x2="412.40" y2="682.70" stroke="#f08037" stroke-width="1.5" />
<circle cx="412.40" cy="682.7" r="4.55" fill="#f08037"/>
<line x1="419.70" y1="696.70" x2="419.70" y2="682.70" stroke="#f08037" stroke-width="1.5" />
<circle cx="419.70" cy="682.7" r="4.55" fill="#f08037"/>
<line x1="432.00" y1="696.70" x2="432.00" y2="682.70" stroke="#f08037" stroke-width="1.5" />
<circle cx="432.00" cy="682.7" r="4.55" fill="#f08037"/>
<line x1="435.80" y1="696.70" x2="435.80" y2="682.70" stroke="#f08037" stroke-width="1.5" />
<circle cx="435.80" cy="682.7" r="4.55" fill="#f08037"/>
<line x1="441.60" y1="696.70" x2="441.60" y2="682.70" stroke="#f08037" stroke-width="1.5" />
<circle cx="441.60" cy="682.7" r="4.55" fill="#f08037"/>
<line x1="446.00" y1="696.70" x2="446.00" y2="682.70" stroke="#f08037" stroke-width="1.5" />
<circle cx="446.00" cy="682.7" r="4.55" fill="#f08037"/>
<line x1="450.40" y1="696.70" x2="450.40" y2="682.70" stroke="#f08037" stroke-width="1.5" />
<circle cx="450.40" cy="682.7" r="4.55" fill="#f08037"/>
<line x1="453.30" y1="696.70" x2="453.30" y2="682.70" stroke="#f08037" stroke-width="1.5" />
<circle cx="453.30" cy="682.7" r="4.55" fill="#f08037"/>
<line x1="456.20" y1="696.70" x2="456.20" y2="682.70" stroke="#f08037" stroke-width="1.5" />
<circle cx="456.20" cy="682.7" r="4.55" fill="#f08037"/>
<line x1="459.10" y1="696.70" x2="459.10" y2="682.70" stroke="#f08037" stroke-width="1.5" />
<circle cx="459.10" cy="682.7" r="4.55" fill="#f08037"/>
<line x1="538.40" y1="696.70" x2="538.40" y2="682.70" stroke="#f08037" stroke-width="1.5" />
<circle cx="538.40" cy="682.7" r="4.55" fill="#f08037"/>
<line x1="541.10" y1="696.70" x2="541.10" y2="682.70" stroke="#f08037" stroke-width="1.5" />
<circle cx="541.10" cy="682.7" r="4.55" fill="#f08037"/>
<line x1="543.40" y1="696.70" x2="543.40" y2="682.70" stroke="#f08037" stroke-width="1.5" />
<circle cx="543.40" cy="682.7" r="4.55" fill="#f08037"/>
<line x1="554.50" y1="696.70" x2="554.50" y2="682.70" stroke="#f08037" stroke-width="1.5" />
<circle cx="554.50" cy="682.7" r="4.55" fill="#f08037"/>
<line x1="557.10" y1="696.70" x2="557.10" y2="682.70" stroke="#f08037" stroke-width="1.5" />
<circle cx="557.10" cy="682.7" r="4.55" fill="#f08037"/>
<line x1="585.70" y1="696.70" x2="585.70" y2="682.70" stroke="#f08037" stroke-width="1.5" />
<circle cx="585.70" cy="682.7" r="4.55" fill="#f08037"/>
<line x1="587.80" y1="696.70" x2="587.80" y2="682.70" stroke="#f08037" stroke-width="1.5" />
<circle cx="587.80" cy="682.7" r="4.55" fill="#f08037"/>
<line x1="593.00" y1="696.70" x2="593.00" y2="682.70" stroke="#f08037" stroke-width="1.5" />
<circle cx="593.00" cy="682.7" r="4.55" fill="#f08037"/>
<line x1="595.40" y1="696.70" x2="595.40" y2="682.70" stroke="#f08037" stroke-width="1.5" />
<circle cx="595.40" cy="682.7" r="4.55" fill="#f08037"/>
<line x1="598.30" y1="696.70" x2="598.30" y2="682.70" stroke="#f08037" stroke-width="1.5" />
<circle cx="598.30" cy="682.7" r="4.55" fill="#f08037"/>
<line x1="600.30" y1="696.70" x2="600.30" y2="682.70" stroke="#f08037" stroke-width="1.5" />
<circle cx="600.30" cy="682.7" r="4.55" fill="#f08037"/>
<line x1="602.40" y1="696.70" x2="602.40" y2="682.70" stroke="#f08037" stroke-width="1.5" />
<circle cx="602.40" cy="682.7" r="4.55" fill="#f08037"/>
<line x1="604.10" y1="696.70" x2="604.10" y2="682.70" stroke="#f08037" stroke-width="1.5" />
<circle cx="604.10" cy="682.7" r="4.55" fill="#f08037"/>
<line x1="115.70" y1="723.00" x2="115.70" y2="737.60" stroke="#f08037" stroke-width="1.5" />
<circle cx="115.70" cy="737.6" r="4.55" fill="#f08037"/>
<line x1="157.70" y1="723.00" x2="157.70" y2="737.60" stroke="#f08037" stroke-width="1.5" />
<circle cx="157.70" cy="737.6" r="4.55" fill="#f08037"/>
<line x1="324.80" y1="723.00" x2="324.80" y2="737.60" stroke="#f08037" stroke-width="1.5" />
<circle cx="324.80" cy="737.6" r="4.55" fill="#f08037"/>
<line x1="327.70" y1="723.00" x2="327.70" y2="737.60" stroke="#f08037" stroke-width="1.5" />
<circle cx="327.70" cy="737.6" r="4.55" fill="#f08037"/>
<line x1="330.70" y1="723.00" x2="330.70" y2="737.60" stroke="#f08037" stroke-width="1.5" />
<circle cx="330.70" cy="737.6" r="4.55" fill="#f08037"/>
<line x1="337.40" y1="723.00" x2="337.40" y2="737.60" stroke="#f08037" stroke-width="1.5" />
<circle cx="337.40" cy="737.6" r="4.55" fill="#f08037"/>
<line x1="343.80" y1="723.00" x2="343.80" y2="737.60" stroke="#f08037" stroke-width="1.5" />
<circle cx="343.80" cy="737.6" r="4.55" fill="#f08037"/>
<line x1="351.10" y1="723.00" x2="351.10" y2="737.60" stroke="#f08037" stroke-width="1.5" />
<circle cx="351.10" cy="737.6" r="4.55" fill="#f08037"/>
<line x1="370.10" y1="723.00" x2="370.10" y2="737.60" stroke="#f08037" stroke-width="1.5" />
<circle cx="370.10" cy="737.6" r="4.55" fill="#f08037"/>
<line x1="382.30" y1="723.00" x2="382.30" y2="737.60" stroke="#f08037" stroke-width="1.5" />
<circle cx="382.30" cy="737.6" r="4.55" fill="#f08037"/>
<line x1="405.70" y1="723.00" x2="405.70" y2="737.60" stroke="#f08037" stroke-width="1.5" />
<circle cx="405.70" cy="737.6" r="4.55" fill="#f08037"/>
<line x1="408.60" y1="723.00" x2="408.60" y2="737.60" stroke="#f08037" stroke-width="1.5" />
<circle cx="408.60" cy="737.6" r="4.55" fill="#f08037"/>
<line x1="412.40" y1="723.00" x2="412.40" y2="737.60" stroke="#f08037" stroke-width="1.5" />
<circle cx="412.40" cy="737.6" r="4.55" fill="#f08037"/>
<line x1="419.70" y1="723.00" x2="419.70" y2="737.60" stroke="#f08037" stroke-width="1.5" />
<circle cx="419.70" cy="737.6" r="4.55" fill="#f08037"/>
<line x1="432.00" y1="723.00" x2="432.00" y2="737.60" stroke="#f08037" stroke-width="1.5" />
<circle cx="432.00" cy="737.6" r="4.55" fill="#f08037"/>
<line x1="435.80" y1="723.00" x2="435.80" y2="737.60" stroke="#f08037" stroke-width="1.5" />
<circle cx="435.80" cy="737.6" r="4.55" fill="#f08037"/>
<line x1="441.60" y1="723.00" x2="441.60" y2="737.60" stroke="#f08037" stroke-width="1.5" />
<circle cx="441.60" cy="737.6" r="4.55" fill="#f08037"/>
<line x1="446.00" y1="723.00" x2="446.00" y2="737.60" stroke="#f08037" stroke-width="1.5" />
<circle cx="446.00" cy="737.6" r="4.55" fill="#f08037"/>
<line x1="450.40" y1="723.00" x2="450.40" y2="737.60" stroke="#f08037" stroke-width="1.5" />
<circle cx="450.40" cy="737.6" r="4.55" fill="#f08037"/>
<line x1="453.30" y1="723.00" x2="453.30" y2="737.60" stroke="#f08037" stroke-width="1.5" />
<circle cx="453.30" cy="737.6" r="4.55" fill="#f08037"/>
<line x1="456.20" y1="723.00" x2="456.20" y2="737.60" stroke="#f08037" stroke-width="1.5" />
<circle cx="456.20" cy="737.6" r="4.55" fill="#f08037"/>
<line x1="459.10" y1="723.00" x2="459.10" y2="737.60" stroke="#f08037" stroke-width="1.5" />
<circle cx="459.10" cy="737.6" r="4.55" fill="#f08037"/>
<line x1="538.40" y1="723.00" x2="538.40" y2="737.60" stroke="#f08037" stroke-width="1.5" />
<circle cx="538.40" cy="737.6" r="4.55" fill="#f08037"/>
<line x1="541.10" y1="723.00" x2="541.10" y2="737.60" stroke="#f08037" stroke-width="1.5" />
<circle cx="541.10" cy="737.6" r="4.55" fill="#f08037"/>
<line x1="543.40" y1="723.00" x2="543.40" y2="737.60" stroke="#f08037" stroke-width="1.5" />
<circle cx="543.40" cy="737.6" r="4.55" fill="#f08037"/>
<line x1="554.50" y1="723.00" x2="554.50" y2="737.60" stroke="#f08037" stroke-width="1.5" />
<circle cx="554.50" cy="737.6" r="4.55" fill="#f08037"/>
<line x1="557.10" y1="723.00" x2="557.10" y2="737.60" stroke="#f08037" stroke-width="1.5" />
<circle cx="557.10" cy="737.6" r="4.55" fill="#f08037"/>
<line x1="585.70" y1="723.00" x2="585.70" y2="737.60" stroke="#f08037" stroke-width="1.5" />
<circle cx="585.70" cy="737.6" r="4.55" fill="#f08037"/>
<line x1="587.80" y1="723.00" x2="587.80" y2="737.60" stroke="#f08037" stroke-width="1.5" />
<circle cx="587.80" cy="737.6" r="4.55" fill="#f08037"/>
<line x1="593.00" y1="723.00" x2="593.00" y2="737.60" stroke="#f08037" stroke-width="1.5" />
<circle cx="593.00" cy="737.6" r="4.55" fill="#f08037"/>
<line x1="595.40" y1="723.00" x2="595.40" y2="737.60" stroke="#f08037" stroke-width="1.5" />
<circle cx="595.40" cy="737.6" r="4.55" fill="#f08037"/>
<line x1="598.30" y1="723.00" x2="598.30" y2="737.60" stroke="#f08037" stroke-width="1.5" />
<circle cx="598.30" cy="737.6" r="4.55" fill="#f08037"/>
<line x1="600.30" y1="723.00" x2="600.30" y2="737.60" stroke="#f08037" stroke-width="1.5" />
<circle cx="600.30" cy="737.6" r="4.55" fill="#f08037"/>
<line x1="602.40" y1="723.00" x2="602.40" y2="737.60" stroke="#f08037" stroke-width="1.5" />
<circle cx="602.40" cy="737.6" r="4.55" fill="#f08037"/>
<line x1="604.10" y1="723.00" x2="604.10" y2="737.60" stroke="#f08037" stroke-width="1.5" />
<circle cx="604.10" cy="737.6" r="4.55" fill="#f08037"/>
<rect x="22.1" y="696.8000000000001" width="603.0" height="26.299999999999955" fill="#fff" stroke="#231f20" stroke-width="1.5"/>
<line x1="124.20" y1="696.70" x2="124.20" y2="723.00" stroke="#231f20" stroke-width="1.5" />
<line x1="224.80" y1="696.70" x2="224.80" y2="723.00" stroke="#231f20" stroke-width="1.5" />
<line x1="320.00" y1="696.70" x2="320.00" y2="723.00" stroke="#231f20" stroke-width="1.5" />
<line x1="397.50" y1="696.70" x2="397.50" y2="723.00" stroke="#231f20" stroke-width="1.5" />
<line x1="465.50" y1="696.70" x2="465.50" y2="723.00" stroke="#231f20" stroke-width="1.5" />
<line x1="533.20" y1="696.70" x2="533.20" y2="723.00" stroke="#231f20" stroke-width="1.5" />
<line x1="569.70" y1="696.70" x2="569.70" y2="723.00" stroke="#231f20" stroke-width="1.5" />
<line x1="580.50" y1="696.70" x2="580.50" y2="723.00" stroke="#231f20" stroke-width="1.5" />
<line x1="611.40" y1="696.70" x2="611.40" y2="723.00" stroke="#231f20" stroke-width="1.5" />
<text x="52.90" y="672.70" font-size="16.8" text-anchor="start" font-weight="normal" fill="#231f20" textLength="33.40" lengthAdjust="spacingAndGlyphs" >PB2</text>
<text x="154.70" y="672.70" font-size="16.8" text-anchor="start" font-weight="normal" fill="#231f20" textLength="33.10" lengthAdjust="spacingAndGlyphs" >PB1</text>
<text x="259.90" y="672.70" font-size="16.8" text-anchor="start" font-weight="normal" fill="#231f20" textLength="23.50" lengthAdjust="spacingAndGlyphs" >PA</text>
<text x="343.80" y="672.70" font-size="16.8" text-anchor="start" font-weight="normal" fill="#231f20" textLength="24.80" lengthAdjust="spacingAndGlyphs" >HA</text>
<text x="416.20" y="672.70" font-size="16.8" text-anchor="start" font-weight="normal" fill="#231f20" textLength="24.80" lengthAdjust="spacingAndGlyphs" >NP</text>
<text x="485.90" y="672.70" font-size="16.8" text-anchor="start" font-weight="normal" fill="#231f20" textLength="23.90" lengthAdjust="spacingAndGlyphs" >NA</text>
<text x="539.90" y="672.70" font-size="16.8" text-anchor="start" font-weight="normal" fill="#231f20" textLength="21.60" lengthAdjust="spacingAndGlyphs" >M1</text>
<text x="581.40" y="672.70" font-size="16.8" text-anchor="start" font-weight="normal" fill="#231f20" textLength="32.10" lengthAdjust="spacingAndGlyphs" >NS1</text>
<text x="579.90" y="763.30" font-size="16.8" text-anchor="start" font-weight="normal" fill="#231f20" textLength="23.30" lengthAdjust="spacingAndGlyphs" >M2</text>
<text x="619.30" y="763.30" font-size="16.8" text-anchor="start" font-weight="normal" fill="#231f20" textLength="34.20" lengthAdjust="spacingAndGlyphs" >NS2</text>
<text x="0.50" y="769.80" font-size="19.4" text-anchor="start" font-weight="bold" fill="#000" >F</text>
<defs>
<filter id="b05" x="-20%" y="-20%" width="140%" height="140%"><feGaussianBlur stdDeviation="0.5"/></filter>
<filter id="b08" x="-20%" y="-50%" width="140%" height="200%"><feGaussianBlur stdDeviation="0.8"/></filter>
<filter id="b15" x="-30%" y="-30%" width="160%" height="160%"><feGaussianBlur stdDeviation="1.5"/></filter>
<filter id="b25" x="-40%" y="-40%" width="180%" height="180%"><feGaussianBlur stdDeviation="2.5"/></filter>
<filter id="bx" x="-30%" y="-5%" width="160%" height="110%"><feGaussianBlur stdDeviation="1.3 0.7"/></filter>
<linearGradient id="gbg" x1="0" y1="0" x2="0" y2="1"><stop offset="0" stop-color="#e6e6e6"/><stop offset="0.7" stop-color="#e8e8e8"/><stop offset="1" stop-color="#dfdfdf"/></linearGradient>
<linearGradient id="l1" gradientUnits="userSpaceOnUse" x1="0" y1="812" x2="0" y2="1100"><stop offset="0.000" stop-color="#909090"/><stop offset="0.024" stop-color="#9a9a9a"/><stop offset="0.056" stop-color="#a8a8a8"/><stop offset="0.115" stop-color="#a5a5a5"/><stop offset="0.167" stop-color="#8c8c8c"/><stop offset="0.208" stop-color="#7c7c7c"/><stop offset="0.306" stop-color="#686868"/><stop offset="0.378" stop-color="#5a5a5a"/><stop offset="0.444" stop-color="#4d4d4d"/><stop offset="0.497" stop-color="#4e4e4e"/><stop offset="0.566" stop-color="#5e5e5e"/><stop offset="0.653" stop-color="#8a8a8a"/><stop offset="0.740" stop-color="#b2b2b2"/><stop offset="0.826" stop-color="#cccccc"/><stop offset="0.913" stop-color="#d2d2d2"/><stop offset="1.000" stop-color="#dcdcdc"/></linearGradient>
<linearGradient id="l4" gradientUnits="userSpaceOnUse" x1="0" y1="813" x2="0" y2="1100"><stop offset="0.000" stop-color="#bcbcbc"/><stop offset="0.035" stop-color="#c2c2c2"/><stop offset="0.111" stop-color="#cdcdcd"/><stop offset="0.223" stop-color="#c4c4c4"/><stop offset="0.303" stop-color="#b8b8b8"/><stop offset="0.376" stop-color="#adadad"/><stop offset="0.491" stop-color="#9c9c9c"/><stop offset="0.564" stop-color="#9e9e9e"/><stop offset="0.652" stop-color="#a8a8a8"/><stop offset="0.756" stop-color="#b6b6b6"/><stop offset="0.861" stop-color="#cacaca"/><stop offset="0.965" stop-color="#dadada"/><stop offset="1.000" stop-color="#e0e0e0"/></linearGradient>
<clipPath id="gclip"><rect x="32" y="801" width="120.6" height="347"/></clipPath>
</defs>
<g clip-path="url(#gclip)">
<rect x="32.00" y="801.00" width="120.60" height="347.00" fill="url(#gbg)" />
<g filter="url(#bx)">
<path d="M37.6 812 L61.6 812 L60.4 960 L59.4 1100 L36.8 1100 L36.9 960 Z" fill="url(#l1)"/>
<path d="M124.6 813 L148.8 813 L148.0 1100 L123.6 1100 Z" fill="url(#l4)"/>
</g>
<rect x="35.9" y="806.4" width="27.4" height="12.0" rx="6" ry="6" fill="#000" filter="url(#b08)"/>
<path d="M125.5 811.6 C129 810.4 131 813.2 134 812.2 S140 810.8 143 811.6 S147 811.4 148.6 812.4" stroke="#161616" stroke-width="2.4" fill="none" filter="url(#b05)"/>
<clipPath id="l1c"><rect x="37.3" y="930" width="22.2" height="180"/></clipPath>
<g filter="url(#bx)"><g clip-path="url(#l1c)"><g filter="url(#b05)">
<rect x="35.6" y="944.25" width="25.2" height="1.10" rx="0.55" fill="#2c2c2c" fill-opacity="0.3" transform="rotate(12 48.2 944.8)"/>
<rect x="35.6" y="948.20" width="25.2" height="1.20" rx="0.60" fill="#282828" fill-opacity="0.4" transform="rotate(12 48.2 948.8)"/>
<rect x="35.6" y="952.35" width="25.2" height="1.50" rx="0.75" fill="#202020" fill-opacity="0.55" transform="rotate(12 48.2 953.1)"/>
<rect x="35.6" y="956.35" width="25.2" height="1.70" rx="0.85" fill="#1c1c1c" fill-opacity="0.7" transform="rotate(12 48.2 957.2)"/>
<rect x="35.6" y="960.35" width="25.2" height="1.90" rx="0.95" fill="#181818" fill-opacity="0.85" transform="rotate(12 48.2 961.3)"/>
<rect x="35.6" y="964.80" width="25.2" height="2.20" rx="1.10" fill="#121212" fill-opacity="1" transform="rotate(12 48.2 965.9)"/>
<rect x="35.6" y="969.25" width="25.2" height="2.50" rx="1.25" fill="#0c0c0c" fill-opacity="1" transform="rotate(12 48.2 970.5)"/>
<rect x="35.6" y="973.70" width="25.2" height="2.80" rx="1.40" fill="#060606" fill-opacity="1" transform="rotate(12 48.2 975.1)"/>
<rect x="35.6" y="978.65" width="25.2" height="3.10" rx="1.55" fill="#000" fill-opacity="1" transform="rotate(12 48.2 980.2)"/>
<rect x="35.6" y="983.65" width="25.2" height="3.50" rx="1.75" fill="#000" fill-opacity="1" transform="rotate(12 48.2 985.4)"/>
<rect x="35.6" y="989.25" width="25.2" height="3.90" rx="1.95" fill="#000" fill-opacity="1" transform="rotate(12 48.2 991.2)"/>
<rect x="35.6" y="995.05" width="25.2" height="4.30" rx="2.15" fill="#000" fill-opacity="1" transform="rotate(12 48.2 997.2)"/>
<rect x="35.6" y="1001.10" width="25.2" height="4.60" rx="2.30" fill="#000" fill-opacity="1" transform="rotate(12 48.2 1003.4)"/>
<rect x="35.6" y="1007.20" width="25.2" height="4.80" rx="2.40" fill="#000" fill-opacity="1" transform="rotate(12 48.2 1009.6)"/>
<rect x="35.6" y="1014.00" width="25.2" height="5.20" rx="2.60" fill="#000" fill-opacity="1" transform="rotate(12 48.2 1016.6)"/>
<rect x="35.6" y="1021.50" width="25.2" height="5.60" rx="2.80" fill="#000" fill-opacity="1" transform="rotate(12 48.2 1024.3)"/>
<rect x="35.6" y="1029.70" width="25.2" height="5.80" rx="2.90" fill="#000" fill-opacity="1" transform="rotate(12 48.2 1032.6)"/>
<rect x="35.6" y="1038.00" width="25.2" height="5.80" rx="2.90" fill="#000" fill-opacity="1" transform="rotate(12 48.2 1040.9)"/>
<rect x="35.6" y="1046.70" width="25.2" height="5.20" rx="2.60" fill="#000" fill-opacity="1" transform="rotate(12 48.2 1049.3)"/>
<rect x="35.6" y="1058.70" width="25.2" height="3.60" rx="1.80" fill="#0a0a0a" fill-opacity="1" transform="rotate(12 48.2 1060.5)"/>
<rect x="35.6" y="1070.30" width="25.2" height="3.00" rx="1.50" fill="#0e0e0e" fill-opacity="1" transform="rotate(12 48.2 1071.8)"/>
<rect x="35.6" y="1078.25" width="25.2" height="6.50" rx="3.25" fill="#9a9a9a" fill-opacity="0.9" transform="rotate(12 48.2 1081.5)"/>
<rect x="35.6" y="1095.50" width="25.2" height="6.00" rx="3.00" fill="#bcbcbc" fill-opacity="0.9" transform="rotate(12 48.2 1098.5)"/>
</g></g></g>
<g filter="url(#b08)">
<ellipse cx="136.0" cy="958.6" rx="11.8" ry="0.90" fill="#8e8e8e"/>
<ellipse cx="136.0" cy="962.6" rx="11.8" ry="0.95" fill="#8a8a8a"/>
<ellipse cx="136.0" cy="966.7" rx="11.8" ry="1.00" fill="#848484"/>
<ellipse cx="136.0" cy="970.9" rx="11.8" ry="1.10" fill="#7c7c7c"/>
<ellipse cx="136.0" cy="975.0" rx="11.8" ry="1.15" fill="#747474"/>
<ellipse cx="136.0" cy="979.0" rx="11.8" ry="1.20" fill="#6c6c6c"/>
<ellipse cx="136.0" cy="983.6" rx="11.8" ry="1.30" fill="#646464"/>
<ellipse cx="136.0" cy="988.8" rx="11.8" ry="1.40" fill="#5c5c5c"/>
<ellipse cx="136.0" cy="994.4" rx="11.8" ry="1.50" fill="#545454"/>
<ellipse cx="136.0" cy="1000.0" rx="11.8" ry="1.60" fill="#4c4c4c"/>
<ellipse cx="136.0" cy="1006.1" rx="11.8" ry="1.70" fill="#464646"/>
<ellipse cx="136.0" cy="1012.3" rx="11.8" ry="1.75" fill="#424242"/>
<ellipse cx="136.0" cy="1019.4" rx="11.8" ry="1.80" fill="#424242"/>
<ellipse cx="136.0" cy="1026.6" rx="11.8" ry="1.80" fill="#464646"/>
<ellipse cx="136.0" cy="1034.7" rx="11.8" ry="1.80" fill="#4e4e4e"/>
<ellipse cx="136.0" cy="1043.0" rx="11.8" ry="1.80" fill="#5a5a5a"/>
<ellipse cx="136.0" cy="1051.6" rx="11.8" ry="1.70" fill="#6a6a6a"/>
<ellipse cx="136.0" cy="1061.0" rx="11.8" ry="1.70" fill="#848484"/>
<ellipse cx="136.0" cy="1071.5" rx="11.8" ry="1.60" fill="#9e9e9e"/>
<ellipse cx="136.0" cy="1083.1" rx="11.8" ry="1.60" fill="#b4b4b4"/>
<ellipse cx="136.0" cy="1091.3" rx="11.8" ry="1.80" fill="#c6c6c6"/>
</g>
<ellipse cx="47.2" cy="1114.4" rx="12.5" ry="8.5" fill="#8e8e8e" filter="url(#b25)"/>
<ellipse cx="46.8" cy="1114.6" rx="8.6" ry="4.9" fill="#000" filter="url(#b15)"/>
<ellipse cx="46.2" cy="1129.4" rx="8.0" ry="3.0" fill="#808080" filter="url(#b15)"/>
<ellipse cx="76.6" cy="1118.7" rx="14" ry="8.5" fill="#9a9a9a" filter="url(#b25)"/>
<ellipse cx="76.8" cy="1118.9" rx="9.5" ry="4.6" fill="#111" filter="url(#b15)"/>
<ellipse cx="77.0" cy="1137.5" rx="8.5" ry="3.0" fill="#b0b0b0" filter="url(#b15)"/>
<ellipse cx="136.1" cy="1124" rx="15.5" ry="8.5" fill="#909090" filter="url(#b25)"/>
<ellipse cx="136.2" cy="1124.2" rx="11.0" ry="4.8" fill="#1a1a1a" filter="url(#b15)"/>
<ellipse cx="136.0" cy="1139.5" rx="9.0" ry="3.0" fill="#b4b4b4" filter="url(#b15)"/>
<ellipse cx="77" cy="1045" rx="6" ry="10" fill="#dedede" filter="url(#b25)"/>
<ellipse cx="77" cy="1075" rx="6" ry="6" fill="#dadada" filter="url(#b25)"/>
</g>
<text transform="translate(55.00,795.60) rotate(-90)" font-size="12.8" text-anchor="start" fill="#231f20" >H<tspan dy="3.8" font-size="7.2">2</tspan><tspan dy="-3.8">O</tspan><tspan dy="3.8" font-size="7.2">2</tspan></text>
<text transform="translate(86.00,795.60) rotate(-90)" font-size="12.8" text-anchor="start" fill="#231f20" >mock</text>
<text transform="translate(112.40,795.60) rotate(-90)" font-size="12.8" text-anchor="start" fill="#231f20" >empty</text>
<text transform="translate(140.60,795.60) rotate(-90)" font-size="12.8" text-anchor="start" fill="#231f20" >WSN</text>
<text transform="translate(28.70,1065.00) rotate(-90)" font-size="13.2" text-anchor="start" fill="#231f20" textLength="25.20" lengthAdjust="spacingAndGlyphs" >PAR</text>
<line x1="23.90" y1="1037.40" x2="23.90" y2="1003.00" stroke="#231f20" stroke-width="1.0" />
<path d="M23.9 999.3 L20.3 1006.4 L23.9 1004.9 L27.5 1006.4 Z" fill="#231f20"/>
<text x="27.60" y="1120.40" font-size="18" text-anchor="middle" font-weight="normal" fill="#231f20" >*</text>
<text x="27.60" y="1137.20" font-size="18" text-anchor="middle" font-weight="normal" fill="#231f20" >*</text>
<text x="185.60" y="769.20" font-size="19.4" text-anchor="start" font-weight="bold" fill="#000" >G</text>
<rect x="268.70" y="951.36" width="13.60" height="88.04" fill="#767676" />
<rect x="289.20" y="965.09" width="13.60" height="74.31" fill="#767676" />
<rect x="309.30" y="858.04" width="13.60" height="181.36" fill="#767676" />
<rect x="329.40" y="921.43" width="13.60" height="117.97" fill="#767676" />
<rect x="349.90" y="892.20" width="13.60" height="147.20" fill="#767676" />
<rect x="370.10" y="876.97" width="13.60" height="162.43" fill="#767676" />
<rect x="390.20" y="944.93" width="13.60" height="94.47" fill="#767676" />
<rect x="410.70" y="911.13" width="13.60" height="128.27" fill="#767676" />
<rect x="430.30" y="945.64" width="13.60" height="93.76" fill="#767676" />
<rect x="450.50" y="950.57" width="13.60" height="88.83" fill="#767676" />
<rect x="470.60" y="953.21" width="13.60" height="86.19" fill="#767676" />
<rect x="510.80" y="838.67" width="13.60" height="200.73" fill="#767676" />
<rect x="531.30" y="957.08" width="13.60" height="82.32" fill="#767676" />
<rect x="551.40" y="900.47" width="13.60" height="138.93" fill="#767676" />
<rect x="571.90" y="936.92" width="13.60" height="102.48" fill="#767676" />
<rect x="592.00" y="963.51" width="13.60" height="75.89" fill="#767676" />
<rect x="611.80" y="1007.53" width="13.60" height="31.87" fill="#767676" />
<rect x="632.20" y="920.99" width="13.60" height="118.41" fill="#767676" />
<line x1="242.10" y1="774.70" x2="242.10" y2="1039.90" stroke="#1a1a1a" stroke-width="1.1" />
<line x1="241.60" y1="1039.40" x2="653.50" y2="1039.40" stroke="#1a1a1a" stroke-width="1.1" />
<line x1="237.50" y1="1039.40" x2="242.10" y2="1039.40" stroke="#1a1a1a" stroke-width="1.1" />
<text x="234.10" y="1044.10" font-size="13.7" text-anchor="end" font-weight="normal" fill="#231f20" >0</text>
<line x1="237.50" y1="951.36" x2="242.10" y2="951.36" stroke="#1a1a1a" stroke-width="1.1" />
<text x="234.10" y="956.06" font-size="13.7" text-anchor="end" font-weight="normal" fill="#231f20" >100</text>
<line x1="237.50" y1="863.32" x2="242.10" y2="863.32" stroke="#1a1a1a" stroke-width="1.1" />
<text x="234.10" y="868.02" font-size="13.7" text-anchor="end" font-weight="normal" fill="#231f20" >200</text>
<line x1="237.50" y1="775.28" x2="242.10" y2="775.28" stroke="#1a1a1a" stroke-width="1.1" />
<text x="234.10" y="779.98" font-size="13.7" text-anchor="end" font-weight="normal" fill="#231f20" >300</text>
<text transform="translate(201.40,902.40) rotate(-90)" font-size="18.2" text-anchor="middle" fill="#231f20" textLength="227.70" lengthAdjust="spacingAndGlyphs" >Polymerase activity (% WT)</text>
<line x1="316.10" y1="839.70" x2="316.10" y2="874.60" stroke="#111" stroke-width="1.05" />
<line x1="312.80" y1="839.70" x2="319.40" y2="839.70" stroke="#111" stroke-width="1.05" />
<line x1="312.80" y1="874.60" x2="319.40" y2="874.60" stroke="#111" stroke-width="1.05" />
<line x1="336.20" y1="913.70" x2="336.20" y2="928.90" stroke="#111" stroke-width="1.05" />
<line x1="332.90" y1="913.70" x2="339.50" y2="913.70" stroke="#111" stroke-width="1.05" />
<line x1="332.90" y1="928.90" x2="339.50" y2="928.90" stroke="#111" stroke-width="1.05" />
<line x1="356.70" y1="846.50" x2="356.70" y2="937.60" stroke="#111" stroke-width="1.05" />
<line x1="353.40" y1="846.50" x2="360.00" y2="846.50" stroke="#111" stroke-width="1.05" />
<line x1="353.40" y1="937.60" x2="360.00" y2="937.60" stroke="#111" stroke-width="1.05" />
<line x1="376.90" y1="853.00" x2="376.90" y2="904.60" stroke="#111" stroke-width="1.05" />
<line x1="373.60" y1="853.00" x2="380.20" y2="853.00" stroke="#111" stroke-width="1.05" />
<line x1="373.60" y1="904.60" x2="380.20" y2="904.60" stroke="#111" stroke-width="1.05" />
<line x1="417.50" y1="903.50" x2="417.50" y2="913.50" stroke="#111" stroke-width="1.05" />
<line x1="414.20" y1="903.50" x2="420.80" y2="903.50" stroke="#111" stroke-width="1.05" />
<line x1="414.20" y1="913.50" x2="420.80" y2="913.50" stroke="#111" stroke-width="1.05" />
<line x1="437.10" y1="941.00" x2="437.10" y2="949.80" stroke="#111" stroke-width="1.05" />
<line x1="433.80" y1="941.00" x2="440.40" y2="941.00" stroke="#111" stroke-width="1.05" />
<line x1="433.80" y1="949.80" x2="440.40" y2="949.80" stroke="#111" stroke-width="1.05" />
<line x1="457.30" y1="935.00" x2="457.30" y2="965.00" stroke="#111" stroke-width="1.05" />
<line x1="454.00" y1="935.00" x2="460.60" y2="935.00" stroke="#111" stroke-width="1.05" />
<line x1="454.00" y1="965.00" x2="460.60" y2="965.00" stroke="#111" stroke-width="1.05" />
<line x1="477.40" y1="948.00" x2="477.40" y2="956.00" stroke="#111" stroke-width="1.05" />
<line x1="474.10" y1="948.00" x2="480.70" y2="948.00" stroke="#111" stroke-width="1.05" />
<line x1="474.10" y1="956.00" x2="480.70" y2="956.00" stroke="#111" stroke-width="1.05" />
<line x1="517.60" y1="828.30" x2="517.60" y2="851.10" stroke="#111" stroke-width="1.05" />
<line x1="514.30" y1="828.30" x2="520.90" y2="828.30" stroke="#111" stroke-width="1.05" />
<line x1="514.30" y1="851.10" x2="520.90" y2="851.10" stroke="#111" stroke-width="1.05" />
<line x1="538.10" y1="952.00" x2="538.10" y2="963.00" stroke="#111" stroke-width="1.05" />
<line x1="534.80" y1="952.00" x2="541.40" y2="952.00" stroke="#111" stroke-width="1.05" />
<line x1="534.80" y1="963.00" x2="541.40" y2="963.00" stroke="#111" stroke-width="1.05" />
<line x1="558.20" y1="887.10" x2="558.20" y2="915.60" stroke="#111" stroke-width="1.05" />
<line x1="554.90" y1="887.10" x2="561.50" y2="887.10" stroke="#111" stroke-width="1.05" />
<line x1="554.90" y1="915.60" x2="561.50" y2="915.60" stroke="#111" stroke-width="1.05" />
<line x1="578.70" y1="923.20" x2="578.70" y2="948.60" stroke="#111" stroke-width="1.05" />
<line x1="575.40" y1="923.20" x2="582.00" y2="923.20" stroke="#111" stroke-width="1.05" />
<line x1="575.40" y1="948.60" x2="582.00" y2="948.60" stroke="#111" stroke-width="1.05" />
<line x1="598.80" y1="960.00" x2="598.80" y2="971.50" stroke="#111" stroke-width="1.05" />
<line x1="595.50" y1="960.00" x2="602.10" y2="960.00" stroke="#111" stroke-width="1.05" />
<line x1="595.50" y1="971.50" x2="602.10" y2="971.50" stroke="#111" stroke-width="1.05" />
<line x1="618.60" y1="996.10" x2="618.60" y2="1018.00" stroke="#111" stroke-width="1.05" />
<line x1="615.30" y1="996.10" x2="621.90" y2="996.10" stroke="#111" stroke-width="1.05" />
<line x1="615.30" y1="1018.00" x2="621.90" y2="1018.00" stroke="#111" stroke-width="1.05" />
<line x1="639.00" y1="904.60" x2="639.00" y2="938.40" stroke="#111" stroke-width="1.05" />
<line x1="635.70" y1="904.60" x2="642.30" y2="904.60" stroke="#111" stroke-width="1.05" />
<line x1="635.70" y1="938.40" x2="642.30" y2="938.40" stroke="#111" stroke-width="1.05" />
<line x1="296.00" y1="959.50" x2="296.00" y2="970.50" stroke="#111" stroke-width="1.05" />
<line x1="292.70" y1="959.50" x2="299.30" y2="959.50" stroke="#111" stroke-width="1.05" />
<line x1="292.70" y1="970.50" x2="299.30" y2="970.50" stroke="#111" stroke-width="1.05" />
<line x1="397.00" y1="937.00" x2="397.00" y2="945.50" stroke="#111" stroke-width="1.05" />
<line x1="393.70" y1="937.00" x2="400.30" y2="937.00" stroke="#111" stroke-width="1.05" />
<line x1="393.70" y1="945.50" x2="400.30" y2="945.50" stroke="#111" stroke-width="1.05" />
<circle cx="252.8" cy="1039.4" r="3.95" fill="none" stroke="#000" stroke-width="1.1"/>
<circle cx="255.2" cy="1039.4" r="3.95" fill="none" stroke="#000" stroke-width="1.1"/>
<circle cx="257.5" cy="1039.4" r="3.95" fill="none" stroke="#000" stroke-width="1.1"/>
<circle cx="259.8" cy="1039.4" r="3.95" fill="none" stroke="#000" stroke-width="1.1"/>
<circle cx="271.7" cy="951.3" r="3.95" fill="none" stroke="#000" stroke-width="1.1"/>
<circle cx="274.4" cy="951.3" r="3.95" fill="none" stroke="#000" stroke-width="1.1"/>
<circle cx="277.0" cy="951.3" r="3.95" fill="none" stroke="#000" stroke-width="1.1"/>
<circle cx="279.7" cy="951.3" r="3.95" fill="none" stroke="#000" stroke-width="1.1"/>
<circle cx="292.6" cy="960" r="3.95" fill="none" stroke="#000" stroke-width="1.1"/>
<circle cx="299" cy="962.3" r="3.95" fill="none" stroke="#000" stroke-width="1.1"/>
<circle cx="293.7" cy="969.5" r="3.95" fill="none" stroke="#000" stroke-width="1.1"/>
<circle cx="316.1" cy="839.7" r="3.95" fill="none" stroke="#000" stroke-width="1.1"/>
<circle cx="316.1" cy="859.4" r="3.95" fill="none" stroke="#000" stroke-width="1.1"/>
<circle cx="316.1" cy="874.6" r="3.95" fill="none" stroke="#000" stroke-width="1.1"/>
<circle cx="333.2" cy="913.7" r="3.95" fill="none" stroke="#000" stroke-width="1.1"/>
<circle cx="338.9" cy="921.3" r="3.95" fill="none" stroke="#000" stroke-width="1.1"/>
<circle cx="336.2" cy="928.9" r="3.95" fill="none" stroke="#000" stroke-width="1.1"/>
<circle cx="356.3" cy="839.7" r="3.95" fill="none" stroke="#000" stroke-width="1.1"/>
<circle cx="358.6" cy="914.5" r="3.95" fill="none" stroke="#000" stroke-width="1.1"/>
<circle cx="353.3" cy="922" r="3.95" fill="none" stroke="#000" stroke-width="1.1"/>
<circle cx="373.8" cy="862.5" r="3.95" fill="none" stroke="#000" stroke-width="1.1"/>
<circle cx="379.5" cy="864" r="3.95" fill="none" stroke="#000" stroke-width="1.1"/>
<circle cx="376.4" cy="904.6" r="3.95" fill="none" stroke="#000" stroke-width="1.1"/>
<circle cx="397" cy="937.2" r="3.95" fill="none" stroke="#000" stroke-width="1.1"/>
<circle cx="399.6" cy="939.5" r="3.95" fill="none" stroke="#000" stroke-width="1.1"/>
<circle cx="393.9" cy="944.8" r="3.95" fill="none" stroke="#000" stroke-width="1.1"/>
<circle cx="416.7" cy="900.8" r="3.95" fill="none" stroke="#000" stroke-width="1.1"/>
<circle cx="414" cy="911" r="3.95" fill="none" stroke="#000" stroke-width="1.1"/>
<circle cx="419.7" cy="911" r="3.95" fill="none" stroke="#000" stroke-width="1.1"/>
<circle cx="434.1" cy="941" r="3.95" fill="none" stroke="#000" stroke-width="1.1"/>
<circle cx="439.4" cy="947.9" r="3.95" fill="none" stroke="#000" stroke-width="1.1"/>
<circle cx="434.1" cy="948.6" r="3.95" fill="none" stroke="#000" stroke-width="1.1"/>
<circle cx="457.3" cy="935" r="3.95" fill="none" stroke="#000" stroke-width="1.1"/>
<circle cx="459.9" cy="956.6" r="3.95" fill="none" stroke="#000" stroke-width="1.1"/>
<circle cx="454.6" cy="960" r="3.95" fill="none" stroke="#000" stroke-width="1.1"/>
<circle cx="477.4" cy="948.6" r="3.95" fill="none" stroke="#000" stroke-width="1.1"/>
<circle cx="480.8" cy="951.3" r="3.95" fill="none" stroke="#000" stroke-width="1.1"/>
<circle cx="474.7" cy="955.4" r="3.95" fill="none" stroke="#000" stroke-width="1.1"/>
<circle cx="494.4" cy="1039.4" r="3.95" fill="none" stroke="#000" stroke-width="1.1"/>
<circle cx="497.0" cy="1039.4" r="3.95" fill="none" stroke="#000" stroke-width="1.1"/>
<circle cx="499.6" cy="1039.4" r="3.95" fill="none" stroke="#000" stroke-width="1.1"/>
<circle cx="502.1" cy="1039.4" r="3.95" fill="none" stroke="#000" stroke-width="1.1"/>
<circle cx="514.9" cy="831.7" r="3.95" fill="none" stroke="#000" stroke-width="1.1"/>
<circle cx="520.3" cy="835.1" r="3.95" fill="none" stroke="#000" stroke-width="1.1"/>
<circle cx="518" cy="851.1" r="3.95" fill="none" stroke="#000" stroke-width="1.1"/>
<circle cx="534.7" cy="952.4" r="3.95" fill="none" stroke="#000" stroke-width="1.1"/>
<circle cx="540.4" cy="953.9" r="3.95" fill="none" stroke="#000" stroke-width="1.1"/>
<circle cx="537.7" cy="962.3" r="3.95" fill="none" stroke="#000" stroke-width="1.1"/>
<circle cx="555.2" cy="890.2" r="3.95" fill="none" stroke="#000" stroke-width="1.1"/>
<circle cx="560.5" cy="895.5" r="3.95" fill="none" stroke="#000" stroke-width="1.1"/>
<circle cx="557.8" cy="915.6" r="3.95" fill="none" stroke="#000" stroke-width="1.1"/>
<circle cx="577.9" cy="923.2" r="3.95" fill="none" stroke="#000" stroke-width="1.1"/>
<circle cx="580.6" cy="943.3" r="3.95" fill="none" stroke="#000" stroke-width="1.1"/>
<circle cx="575.7" cy="945.6" r="3.95" fill="none" stroke="#000" stroke-width="1.1"/>
<circle cx="595.8" cy="961.1" r="3.95" fill="none" stroke="#000" stroke-width="1.1"/>
<circle cx="601.1" cy="961.9" r="3.95" fill="none" stroke="#000" stroke-width="1.1"/>
<circle cx="598.4" cy="971" r="3.95" fill="none" stroke="#000" stroke-width="1.1"/>
<circle cx="618.5" cy="996.1" r="3.95" fill="none" stroke="#000" stroke-width="1.1"/>
<circle cx="621.6" cy="1013.1" r="3.95" fill="none" stroke="#000" stroke-width="1.1"/>
<circle cx="616.3" cy="1014.3" r="3.95" fill="none" stroke="#000" stroke-width="1.1"/>
<circle cx="639" cy="904.6" r="3.95" fill="none" stroke="#000" stroke-width="1.1"/>
<circle cx="639" cy="922.4" r="3.95" fill="none" stroke="#000" stroke-width="1.1"/>
<circle cx="639" cy="938.4" r="3.95" fill="none" stroke="#000" stroke-width="1.1"/>
<text x="255.80" y="1029.70" font-size="10.4" text-anchor="middle" font-weight="normal" fill="#231f20" >****</text>
<text x="296.00" y="944.60" font-size="11.4" text-anchor="middle" font-weight="normal" fill="#231f20" >ns</text>
<text x="316.10" y="818.30" font-size="10.4" text-anchor="middle" font-weight="normal" fill="#231f20" >****</text>
<text x="336.20" y="897.90" font-size="11.4" text-anchor="middle" font-weight="normal" fill="#231f20" >ns</text>
<text x="356.70" y="824.00" font-size="10.4" text-anchor="middle" font-weight="normal" fill="#231f20" >***</text>
<text x="376.90" y="832.40" font-size="10.4" text-anchor="middle" font-weight="normal" fill="#231f20" >****</text>
<text x="397.00" y="919.60" font-size="11.4" text-anchor="middle" font-weight="normal" fill="#231f20" >ns</text>
<text x="417.50" y="882.80" font-size="10.4" text-anchor="middle" font-weight="normal" fill="#231f20" >*</text>
<text x="437.10" y="925.20" font-size="11.4" text-anchor="middle" font-weight="normal" fill="#231f20" >ns</text>
<text x="457.30" y="921.50" font-size="11.4" text-anchor="middle" font-weight="normal" fill="#231f20" >ns</text>
<text x="477.40" y="934.70" font-size="11.4" text-anchor="middle" font-weight="normal" fill="#231f20" >ns</text>
<text x="498.10" y="1031.60" font-size="10.4" text-anchor="middle" font-weight="normal" fill="#231f20" >****</text>
<text x="517.60" y="805.00" font-size="10.4" text-anchor="middle" font-weight="normal" fill="#231f20" >****</text>
<text x="538.10" y="935.90" font-size="11.4" text-anchor="middle" font-weight="normal" fill="#231f20" >ns</text>
<text x="558.20" y="869.60" font-size="10.4" text-anchor="middle" font-weight="normal" fill="#231f20" >**</text>
<text x="578.70" y="908.20" font-size="11.4" text-anchor="middle" font-weight="normal" fill="#231f20" >ns</text>
<text x="598.80" y="942.70" font-size="11.4" text-anchor="middle" font-weight="normal" fill="#231f20" >ns</text>
<text x="618.60" y="985.30" font-size="10.4" text-anchor="middle" font-weight="normal" fill="#231f20" >***</text>
<text x="639.00" y="885.40" font-size="11.4" text-anchor="middle" font-weight="normal" fill="#231f20" >ns</text>
<text transform="translate(261.00,1044.60) rotate(-90)" font-size="15.8" text-anchor="end" fill="#231f20" >ΔNP</text>
<text transform="translate(280.70,1044.60) rotate(-90)" font-size="15.8" text-anchor="end" fill="#231f20" >WT</text>
<text transform="translate(301.20,1044.60) rotate(-90)" font-size="15.8" text-anchor="end" fill="#231f20" >S9A</text>
<text transform="translate(321.30,1044.60) rotate(-90)" font-size="15.8" text-anchor="end" fill="#231f20" >D34A</text>
<text transform="translate(341.40,1044.60) rotate(-90)" font-size="15.8" text-anchor="end" fill="#231f20" >S50A</text>
<text transform="translate(361.90,1044.60) rotate(-90)" font-size="15.8" text-anchor="end" fill="#231f20" >S60A</text>
<text transform="translate(382.10,1044.60) rotate(-90)" font-size="15.8" text-anchor="end" fill="#231f20" >S69A</text>
<text transform="translate(402.20,1044.60) rotate(-90)" font-size="15.8" text-anchor="end" fill="#231f20" >Y78A</text>
<text transform="translate(422.70,1044.60) rotate(-90)" font-size="15.8" text-anchor="end" fill="#231f20" >T92A</text>
<text transform="translate(442.30,1044.60) rotate(-90)" font-size="15.8" text-anchor="end" fill="#231f20" >E107A</text>
<text transform="translate(462.50,1044.60) rotate(-90)" font-size="15.8" text-anchor="end" fill="#231f20" >T188A</text>
<text transform="translate(482.60,1044.60) rotate(-90)" font-size="15.8" text-anchor="end" fill="#231f20" >T237A</text>
<text transform="translate(503.30,1044.60) rotate(-90)" font-size="15.8" text-anchor="end" fill="#231f20" >E252A</text>
<text transform="translate(522.80,1044.60) rotate(-90)" font-size="15.8" text-anchor="end" fill="#231f20" >E294A</text>
<text transform="translate(543.30,1044.60) rotate(-90)" font-size="15.8" text-anchor="end" fill="#231f20" >S310A</text>
<text transform="translate(563.40,1044.60) rotate(-90)" font-size="15.8" text-anchor="end" fill="#231f20" >S367A</text>
<text transform="translate(583.90,1044.60) rotate(-90)" font-size="15.8" text-anchor="end" fill="#231f20" >S402A</text>
<text transform="translate(604.00,1044.60) rotate(-90)" font-size="15.8" text-anchor="end" fill="#231f20" >D421A</text>
<text transform="translate(623.80,1044.60) rotate(-90)" font-size="15.8" text-anchor="end" fill="#231f20" >E449A</text>
<text transform="translate(644.20,1044.60) rotate(-90)" font-size="15.8" text-anchor="end" fill="#231f20" >E465A</text>
<defs><filter id="bb" x="-20%" y="-80%" width="140%" height="260%"><feGaussianBlur stdDeviation="1.0 0.7"/></filter>
<clipPath id="bclip1"><rect x="247" y="1096.3" width="398.1" height="20.2"/></clipPath>
<clipPath id="bclip2"><rect x="247" y="1123.7" width="398.1" height="24.3"/></clipPath></defs>
<rect x="247.00" y="1096.30" width="398.10" height="20.20" fill="#ebebeb" />
<rect x="247.00" y="1123.70" width="398.10" height="24.30" fill="#ececec" />
<g clip-path="url(#bclip1)"><g filter="url(#bb)">
<ellipse cx="278.2" cy="1107.8" rx="8.2" ry="2.15" fill="#0a0a0a"/>
<ellipse cx="297.6" cy="1107.8" rx="8.6" ry="2.25" fill="#080808"/>
<ellipse cx="317.0" cy="1107.8" rx="8.3" ry="2.25" fill="#0a0a0a"/>
<ellipse cx="336.0" cy="1107.8" rx="7.3" ry="1.65" fill="#3a3a3a"/>
<ellipse cx="356.6" cy="1107.8" rx="8.8" ry="2.45" fill="#040404"/>
<ellipse cx="376.4" cy="1107.8" rx="7.9" ry="2.05" fill="#141414"/>
<ellipse cx="395.8" cy="1107.8" rx="7.5" ry="1.75" fill="#2a2a2a"/>
<ellipse cx="415.6" cy="1107.8" rx="7.1" ry="1.55" fill="#8a8a8a"/>
<ellipse cx="435.4" cy="1107.8" rx="6.6" ry="1.35" fill="#b4b4b4"/>
<ellipse cx="455.4" cy="1107.8" rx="8.3" ry="2.25" fill="#080808"/>
<ellipse cx="473.8" cy="1107.8" rx="8.5" ry="2.05" fill="#1c1c1c"/>
<ellipse cx="493.3" cy="1107.8" rx="8.1" ry="2.05" fill="#1e1e1e"/>
<ellipse cx="513.0" cy="1107.8" rx="8.1" ry="1.95" fill="#2c2c2c"/>
<ellipse cx="533.2" cy="1107.8" rx="7.9" ry="1.55" fill="#8c8c8c"/>
<ellipse cx="554.0" cy="1107.8" rx="8.2" ry="2.25" fill="#101010"/>
<ellipse cx="574.4" cy="1107.8" rx="8.8" ry="2.45" fill="#060606"/>
<ellipse cx="594.5" cy="1107.8" rx="8.8" ry="2.25" fill="#0c0c0c"/>
<ellipse cx="615.2" cy="1107.8" rx="8.6" ry="2.25" fill="#101010"/>
<ellipse cx="635.6" cy="1107.8" rx="8.2" ry="2.15" fill="#141414"/>
</g></g>
<g clip-path="url(#bclip2)"><g filter="url(#bb)">
<ellipse cx="256.4" cy="1135.1" rx="9.8" ry="3.20" fill="#020202"/>
<rect x="245.6" y="1134.1" width="21.6" height="1.8" fill="#222"/>
<ellipse cx="276.1" cy="1135.0" rx="9.8" ry="3.20" fill="#020202"/>
<rect x="265.3" y="1134.1" width="21.6" height="1.8" fill="#222"/>
<ellipse cx="296.6" cy="1135.0" rx="9.8" ry="3.20" fill="#020202"/>
<rect x="285.8" y="1134.1" width="21.6" height="1.8" fill="#222"/>
<ellipse cx="316.7" cy="1135.0" rx="9.8" ry="3.20" fill="#020202"/>
<rect x="305.9" y="1134.1" width="21.6" height="1.8" fill="#222"/>
<ellipse cx="336.8" cy="1135.0" rx="9.8" ry="3.20" fill="#020202"/>
<rect x="326.0" y="1134.1" width="21.6" height="1.8" fill="#222"/>
<ellipse cx="357.3" cy="1135.0" rx="9.8" ry="3.20" fill="#020202"/>
<rect x="346.5" y="1134.1" width="21.6" height="1.8" fill="#222"/>
<ellipse cx="377.5" cy="1135.0" rx="9.8" ry="3.20" fill="#020202"/>
<rect x="366.7" y="1134.1" width="21.6" height="1.8" fill="#222"/>
<ellipse cx="397.6" cy="1135.0" rx="9.8" ry="3.20" fill="#020202"/>
<rect x="386.8" y="1134.1" width="21.6" height="1.8" fill="#222"/>
<ellipse cx="418.1" cy="1135.0" rx="9.8" ry="3.20" fill="#020202"/>
<rect x="407.3" y="1134.1" width="21.6" height="1.8" fill="#222"/>
<ellipse cx="437.7" cy="1135.0" rx="9.8" ry="3.20" fill="#020202"/>
<rect x="426.9" y="1134.1" width="21.6" height="1.8" fill="#222"/>
<ellipse cx="457.9" cy="1135.0" rx="9.8" ry="3.20" fill="#020202"/>
<rect x="447.1" y="1134.1" width="21.6" height="1.8" fill="#222"/>
<ellipse cx="478.0" cy="1135.5" rx="9.8" ry="2.70" fill="#020202"/>
<rect x="467.2" y="1134.1" width="21.6" height="1.8" fill="#222"/>
<ellipse cx="498.7" cy="1135.5" rx="9.8" ry="2.70" fill="#020202"/>
<rect x="487.9" y="1134.1" width="21.6" height="1.8" fill="#222"/>
<ellipse cx="518.2" cy="1135.0" rx="9.8" ry="2.70" fill="#020202"/>
<rect x="507.4" y="1134.1" width="21.6" height="1.8" fill="#222"/>
<ellipse cx="538.7" cy="1135.0" rx="9.8" ry="2.70" fill="#020202"/>
<rect x="527.9" y="1134.1" width="21.6" height="1.8" fill="#222"/>
<ellipse cx="558.8" cy="1135.0" rx="9.8" ry="2.70" fill="#020202"/>
<rect x="548.0" y="1134.1" width="21.6" height="1.8" fill="#222"/>
<ellipse cx="579.3" cy="1135.0" rx="9.8" ry="2.70" fill="#020202"/>
<rect x="568.5" y="1134.1" width="21.6" height="1.8" fill="#222"/>
<ellipse cx="599.4" cy="1135.0" rx="9.8" ry="2.70" fill="#020202"/>
<rect x="588.6" y="1134.1" width="21.6" height="1.8" fill="#222"/>
<ellipse cx="619.2" cy="1135.0" rx="9.8" ry="2.70" fill="#020202"/>
<rect x="608.4" y="1134.1" width="21.6" height="1.8" fill="#222"/>
<ellipse cx="639.6" cy="1135.0" rx="9.8" ry="2.70" fill="#020202"/>
<rect x="628.8" y="1134.1" width="21.6" height="1.8" fill="#222"/>
</g></g>
<line x1="464.10" y1="1095.30" x2="464.10" y2="1148.00" stroke="#333" stroke-width="0.8" stroke-dasharray="1.2 1.6"/>
<text x="233.20" y="1111.00" font-size="14.2" text-anchor="end" font-weight="normal" fill="#231f20" textLength="17.20" lengthAdjust="spacingAndGlyphs" >NP</text>
<text x="232.20" y="1138.00" font-size="14.2" text-anchor="end" font-weight="normal" fill="#231f20" textLength="39.90" lengthAdjust="spacingAndGlyphs" >β-actin</text>
<path d="M237.0 1102.4 L243.2 1106.3 L237.0 1110.2 Z" fill="#000"/>
<path d="M237.0 1129.5 L243.2 1133.4 L237.0 1137.3 Z" fill="#000"/>
</svg>
</body></html>
